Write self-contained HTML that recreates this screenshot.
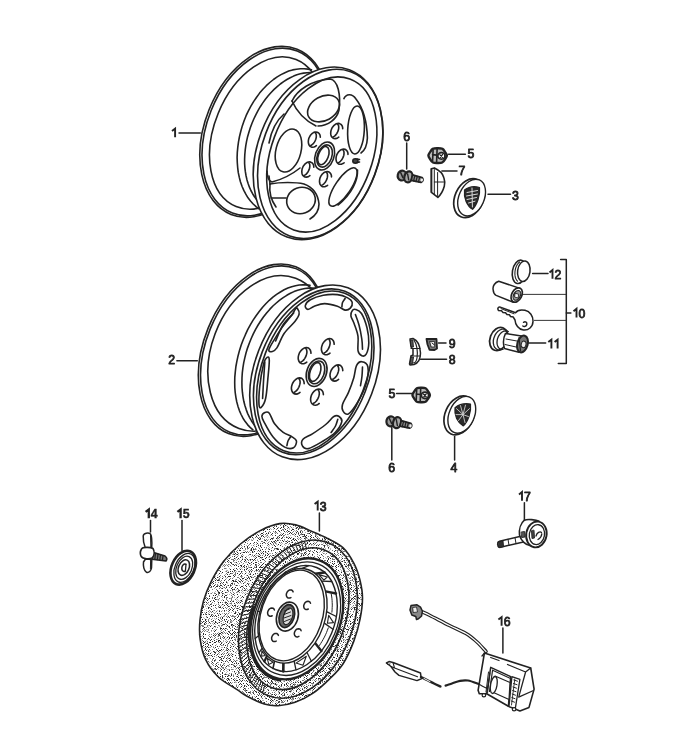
<!DOCTYPE html>
<html><head><meta charset="utf-8"><style>
html,body{margin:0;padding:0;background:#fff;}
svg{display:block;font-family:"Liberation Sans",sans-serif;}
</style></head><body>
<svg width="700" height="748" viewBox="0 0 700 748" stroke="#222" fill="none" stroke-linecap="round" stroke-linejoin="round">
<defs><filter id="soft" x="0" y="0" width="700" height="748" filterUnits="userSpaceOnUse"><feGaussianBlur stdDeviation="0.3"/></filter></defs>
<rect x="0" y="0" width="700" height="748" fill="#fff" stroke="none"/>
<g filter="url(#soft)">
<ellipse cx="264.1" cy="131.8" rx="89.0" ry="59.3" transform="rotate(-68.2 264.1 131.8)" fill="#fff" stroke-width="1.6" />
<ellipse cx="264.8" cy="132.0" rx="87.3" ry="57.8" transform="rotate(-68.2 264.8 132.0)" fill="none" stroke-width="1.6" />
<ellipse cx="266.1" cy="133.0" rx="79.4" ry="51.8" transform="rotate(-67.8 266.1 133.0)" fill="none" stroke-width="1.6" />
<path d="M259.1,208.9 L256.1,206.6 L253.2,204.0 L250.5,201.0 L248.0,197.8 L245.8,194.2 L243.8,190.4 L242.0,186.3 L240.5,182.0 L239.3,177.4 L238.3,172.7 L237.7,167.8 L237.3,162.8 L237.1,157.6 L237.3,152.4 L237.8,147.1 L238.5,141.8 L239.5,136.5 L240.8,131.2 L242.3,125.9 L244.1,120.8 L246.1,115.7 L248.4,110.8 L250.9,106.1 L253.6,101.6 L256.6,97.2 L259.6,93.1 L262.9,89.3 L266.3,85.7 L269.8,82.5 L273.5,79.5 L277.2,76.9 L281.0,74.6 L284.9,72.7 L288.7,71.1 L292.6,69.9 L296.5,69.2 L300.4,68.7 L304.2,68.7 L307.9,69.1 L311.5,69.8" fill="none" stroke-width="1.6" />
<path d="M256.6,199.4 L254.5,196.7 L252.6,193.7 L250.9,190.5 L249.4,187.2 L248.1,183.6 L247.0,179.9 L246.1,176.0 L245.4,171.9 L244.9,167.8 L244.6,163.5 L244.6,159.1 L244.8,154.7 L245.2,150.2 L245.8,145.7 L246.6,141.2 L247.6,136.7 L248.9,132.2 L250.3,127.7 L252.0,123.3 L253.8,119.0 L255.8,114.8 L258.0,110.7 L260.3,106.7 L262.8,102.9 L265.4,99.2 L268.2,95.8 L271.1,92.5 L274.1,89.4 L277.2,86.6 L280.3,84.0 L283.6,81.6 L286.9,79.5 L290.2,77.7 L293.6,76.1 L296.9,74.8 L300.3,73.8 L303.6,73.1 L307.0,72.7 L310.2,72.6 L313.4,72.8" fill="none" stroke-width="1.6" />
<ellipse cx="318.1" cy="153.4" rx="89.3" ry="60.6" transform="rotate(-69.6 318.1 153.4)" fill="#fff" stroke-width="1.6" />
<ellipse cx="320.2" cy="153.9" rx="87.6" ry="58.2" transform="rotate(-69.6 320.2 153.9)" fill="none" stroke-width="1.6" />
<ellipse cx="321.8" cy="154.5" rx="80.5" ry="50.5" transform="rotate(-69.6 321.8 154.5)" fill="none" stroke-width="1.6" />
<ellipse cx="323.5" cy="108.5" rx="17.0" ry="12.0" transform="rotate(-29.5 323.5 108.5)" fill="none" stroke-width="1.6" />
<ellipse cx="356.0" cy="130.0" rx="24.0" ry="8.3" transform="rotate(-87.0 356.0 130.0)" fill="none" stroke-width="1.6" />
<ellipse cx="288.5" cy="150.5" rx="22.0" ry="12.5" transform="rotate(-75.6 288.5 150.5)" fill="none" stroke-width="1.6" />
<ellipse cx="301.0" cy="200.5" rx="14.5" ry="13.0" transform="rotate(-20.0 301.0 200.5)" fill="none" stroke-width="1.6" />
<ellipse cx="343.0" cy="187.0" rx="22.5" ry="7.8" transform="rotate(-56.0 343.0 187.0)" fill="none" stroke-width="1.6" />
<path d="M292,101 C297,90 312,80 330,79 C338,80 341,95 339,110 C337,119 328,126 318,126" fill="none" stroke-width="1.6" />
<path d="M292,101 C296,110 304,120 316,126" fill="none" stroke-width="1.6" />
<path d="M343.9,98.6 C346,94 352,93 356,99 C363,108 367,122 367.4,138 C367,146 364,151 361,153" fill="none" stroke-width="1.6" />
<path d="M284,114 C277,120 271.5,130 269,143" fill="none" stroke-width="1.6" />
<path d="M267,171 C267.3,178 269,181.5 272,182 C280,180 290,176 300,168" fill="none" stroke-width="1.6" />
<path d="M270,184 C280,182 296,182 304,184 C312,187 318,194 319,204 C319,211 315,216 310,219" fill="none" stroke-width="1.6" />
<path d="M270,184 C269,192 271,200 276,207" fill="none" stroke-width="1.6" />
<path d="M269,176 L270,184" fill="none" stroke-width="1.6" />
<line x1="271" y1="198" x2="286" y2="198" stroke-width="1.6"/>
<path d="M357.5,170 C358,180 352,194 338,205" fill="none" stroke-width="1.6" />
<ellipse cx="324.6" cy="156.0" rx="14.5" ry="9.3" transform="rotate(-70.0 324.6 156.0)" fill="none" stroke-width="1.6" />
<ellipse cx="324.6" cy="156.0" rx="11.5" ry="7.2" transform="rotate(-70.0 324.6 156.0)" fill="none" stroke-width="1.6" />
<ellipse cx="323.4" cy="155.6" rx="9.5" ry="5.0" transform="rotate(-70.0 323.4 155.6)" fill="none" stroke-width="1.6" />
<path d="M338.8,137.1 L337.6,137.9 L336.4,138.4 L335.1,138.6 L333.9,138.5 L332.9,138.0 L332.0,137.2 L331.3,136.2 L330.9,134.9 L330.7,133.4 L330.8,131.8 L331.1,130.2 L331.7,128.7 L332.5,127.2 L333.5,125.9 L334.7,124.8 L335.9,124.0 L337.2,123.5 L338.4,123.4 L339.6,123.6 L340.6,124.1 L341.5,124.9 L342.2,126.0 L342.6,127.3 L342.7,128.7" fill="none" stroke-width="1.6" />
<path d="M337.7,124.3 L338.2,124.9 L338.6,125.8 L338.7,126.9 L338.7,128.2 L338.5,129.5 L338.1,130.9 L337.5,132.2 L336.8,133.5 L336.0,134.6 L335.1,135.6 L334.1,136.4 L333.2,136.9" fill="none" stroke-width="1.6" />
<path d="M316.4,145.7 L315.2,146.5 L314.0,147.0 L312.7,147.2 L311.5,147.1 L310.5,146.6 L309.6,145.8 L308.9,144.8 L308.5,143.5 L308.3,142.0 L308.4,140.4 L308.7,138.8 L309.3,137.3 L310.1,135.8 L311.1,134.5 L312.3,133.4 L313.5,132.6 L314.8,132.1 L316.0,132.0 L317.2,132.2 L318.2,132.7 L319.1,133.5 L319.8,134.6 L320.2,135.9 L320.3,137.3" fill="none" stroke-width="1.6" />
<path d="M315.3,132.9 L315.8,133.5 L316.2,134.4 L316.3,135.5 L316.3,136.8 L316.1,138.1 L315.7,139.5 L315.1,140.8 L314.4,142.1 L313.6,143.2 L312.7,144.2 L311.7,145.0 L310.8,145.5" fill="none" stroke-width="1.6" />
<path d="M344.1,162.8 L342.9,163.6 L341.7,164.1 L340.4,164.3 L339.2,164.2 L338.2,163.7 L337.3,162.9 L336.6,161.9 L336.2,160.6 L336.0,159.1 L336.1,157.5 L336.4,155.9 L337.0,154.4 L337.8,152.9 L338.8,151.6 L340.0,150.5 L341.2,149.7 L342.5,149.2 L343.7,149.1 L344.9,149.3 L345.9,149.8 L346.8,150.6 L347.5,151.7 L347.9,153.0 L348.0,154.4" fill="none" stroke-width="1.6" />
<path d="M343.0,150.0 L343.5,150.6 L343.9,151.5 L344.0,152.6 L344.0,153.9 L343.8,155.2 L343.4,156.6 L342.8,157.9 L342.1,159.2 L341.3,160.3 L340.4,161.3 L339.4,162.1 L338.5,162.6" fill="none" stroke-width="1.6" />
<path d="M309.9,175.6 L308.7,176.4 L307.5,176.9 L306.2,177.1 L305.0,177.0 L304.0,176.5 L303.1,175.7 L302.4,174.7 L302.0,173.4 L301.8,171.9 L301.9,170.3 L302.2,168.7 L302.8,167.2 L303.6,165.7 L304.6,164.4 L305.8,163.3 L307.0,162.5 L308.3,162.0 L309.5,161.9 L310.7,162.1 L311.7,162.6 L312.6,163.4 L313.3,164.5 L313.7,165.8 L313.8,167.2" fill="none" stroke-width="1.6" />
<path d="M308.8,162.8 L309.3,163.4 L309.7,164.3 L309.8,165.4 L309.8,166.7 L309.6,168.0 L309.2,169.4 L308.6,170.7 L307.9,172.0 L307.1,173.1 L306.2,174.1 L305.2,174.9 L304.3,175.4" fill="none" stroke-width="1.6" />
<path d="M327.6,185.3 L326.4,186.1 L325.2,186.6 L323.9,186.8 L322.7,186.7 L321.7,186.2 L320.8,185.4 L320.1,184.4 L319.7,183.1 L319.5,181.6 L319.6,180.0 L319.9,178.4 L320.5,176.9 L321.3,175.4 L322.3,174.1 L323.5,173.0 L324.7,172.2 L326.0,171.7 L327.2,171.6 L328.4,171.8 L329.4,172.3 L330.3,173.1 L331.0,174.2 L331.4,175.5 L331.5,176.9" fill="none" stroke-width="1.6" />
<path d="M326.5,172.5 L327.0,173.1 L327.4,174.0 L327.5,175.1 L327.5,176.4 L327.3,177.7 L326.9,179.1 L326.3,180.4 L325.6,181.7 L324.8,182.8 L323.9,183.8 L322.9,184.6 L322.0,185.1" fill="none" stroke-width="1.6" />
<ellipse cx="355.4" cy="161.0" rx="2.6" ry="2.2" transform="rotate(0.0 355.4 161.0)" fill="#444" stroke-width="1.6" />
<path d="M357,159 L359.5,159.5 M357,162.5 L359.5,162" fill="none" stroke-width="1.6" />
<ellipse cx="262.1" cy="350.2" rx="89.9" ry="58.3" transform="rotate(-68.0 262.1 350.2)" fill="#fff" stroke-width="1.6" />
<ellipse cx="262.8" cy="350.4" rx="88.2" ry="56.8" transform="rotate(-68.0 262.8 350.4)" fill="none" stroke-width="1.6" />
<ellipse cx="267.3" cy="353.4" rx="80.3" ry="55.8" transform="rotate(-69.3 267.3 353.4)" fill="none" stroke-width="1.6" />
<path d="M252.9,429.8 L250.1,427.4 L247.5,424.6 L245.2,421.6 L243.0,418.2 L241.1,414.5 L239.4,410.6 L238.0,406.4 L236.8,402.0 L235.9,397.3 L235.2,392.5 L234.8,387.5 L234.7,382.4 L234.8,377.2 L235.3,371.9 L235.9,366.5 L236.9,361.1 L238.1,355.7 L239.5,350.4 L241.2,345.0 L243.2,339.8 L245.4,334.7 L247.7,329.7 L250.3,324.8 L253.1,320.1 L256.1,315.7 L259.2,311.5 L262.4,307.5 L265.8,303.8 L269.3,300.3 L272.9,297.2 L276.6,294.4 L280.4,292.0 L284.1,289.8 L287.9,288.1 L291.7,286.7 L295.5,285.7 L299.2,285.0 L302.9,284.8 L306.5,284.9 L310.0,285.4" fill="none" stroke-width="1.6" />
<path d="M255.9,427.0 L253.6,424.0 L251.4,420.7 L249.5,417.3 L247.7,413.6 L246.2,409.6 L244.9,405.5 L243.8,401.3 L243.0,396.8 L242.4,392.2 L242.0,387.5 L241.9,382.7 L242.0,377.8 L242.3,372.9 L242.9,367.9 L243.7,362.9 L244.8,357.9 L246.0,353.0 L247.5,348.1 L249.3,343.2 L251.2,338.5 L253.3,333.8 L255.6,329.3 L258.1,325.0 L260.8,320.8 L263.6,316.8 L266.6,313.0 L269.7,309.4 L272.9,306.0 L276.3,303.0 L279.7,300.1 L283.2,297.6 L286.8,295.3 L290.4,293.3 L294.0,291.6 L297.7,290.3 L301.4,289.2 L305.0,288.5 L308.6,288.1 L312.2,288.0 L315.7,288.3" fill="none" stroke-width="1.6" />
<ellipse cx="315.1" cy="372.3" rx="90.7" ry="60.5" transform="rotate(-68.8 315.1 372.3)" fill="#fff" stroke-width="1.6" />
<ellipse cx="313.7" cy="371.8" rx="86.3" ry="55.2" transform="rotate(-68.8 313.7 371.8)" fill="none" stroke-width="1.6" />
<ellipse cx="314.2" cy="372.0" rx="84.4" ry="52.3" transform="rotate(-68.8 314.2 372.0)" fill="none" stroke-width="1.6" />
<path d="M305.3,305.6 C305.7,304.0 307.4,301.5 310.4,299.8 C313.4,298.1 318.8,296.2 323.3,295.3 C327.8,294.4 333.3,294.2 337.4,294.6 C341.5,295.0 345.2,296.6 347.7,297.9 C350.2,299.2 351.8,300.7 352.2,302.4 C352.6,304.1 351.5,306.8 350.3,308.1 C349.1,309.4 347.2,310.4 345.1,310.1 C343.0,309.8 340.8,307.3 337.4,306.2 C334.0,305.1 328.5,303.6 324.6,303.6 C320.8,303.6 317.1,305.2 314.3,306.2 C311.5,307.2 309.4,309.5 307.9,309.4 C306.4,309.3 304.9,307.2 305.3,305.6Z" fill="none" stroke-width="1.6" />
<path d="M355.4,309.4 C356.9,309.9 359.6,310.4 361.5,313.5 C363.4,316.6 365.8,322.9 367.0,327.8 C368.2,332.7 368.9,338.4 368.8,342.8 C368.7,347.2 367.4,352.1 366.2,354.2 C365.0,356.3 363.2,356.3 361.8,355.7 C360.4,355.1 358.6,353.8 358.0,350.6 C357.4,347.4 358.6,340.9 358.0,336.4 C357.4,331.9 355.3,327.0 354.1,323.6 C352.9,320.2 351.2,318.0 350.9,315.8 C350.6,313.6 351.4,311.8 352.2,310.7 C352.9,309.6 353.8,308.9 355.4,309.4Z" fill="none" stroke-width="1.6" />
<path d="M361.8,361.7 C363.7,361.9 367.2,363.2 367.9,367.0 C368.6,370.8 367.6,378.6 365.9,384.4 C364.2,390.2 360.7,396.9 357.8,401.8 C354.9,406.7 350.9,412.2 348.5,413.8 C346.1,415.4 344.1,412.7 343.1,411.1 C342.1,409.6 341.6,407.6 342.5,404.5 C343.4,401.4 346.6,396.9 348.5,392.4 C350.4,387.9 352.5,382.1 353.8,377.7 C355.1,373.2 355.2,368.4 356.5,365.7 C357.8,363.0 359.9,361.5 361.8,361.7Z" fill="none" stroke-width="1.6" />
<path d="M339.1,416.5 C340.4,417.4 342.5,419.1 341.8,421.8 C341.1,424.5 338.5,429.1 335.1,432.5 C331.8,435.9 326.1,439.2 321.7,441.9 C317.2,444.6 311.6,447.9 308.4,448.6 C305.2,449.3 303.3,447.5 302.4,445.9 C301.5,444.3 301.3,441.2 303.0,439.2 C304.7,437.2 308.6,436.3 312.4,433.9 C316.2,431.4 322.1,427.4 325.7,424.5 C329.3,421.6 331.6,417.8 333.8,416.5 C336.0,415.2 337.8,415.6 339.1,416.5Z" fill="none" stroke-width="1.6" />
<path d="M264.9,412.5 C266.1,412.0 267.7,411.4 269.3,413.2 C270.9,415.0 272.1,420.3 274.4,423.5 C276.7,426.7 280.2,430.2 283.2,432.4 C286.1,434.6 289.9,435.3 292.1,436.8 C294.3,438.3 296.3,439.4 296.5,441.2 C296.7,443.0 295.5,446.8 293.5,447.8 C291.5,448.8 288.1,448.9 284.7,447.1 C281.3,445.3 276.3,441.0 272.9,436.8 C269.5,432.6 265.9,425.5 264.1,422.1 C262.3,418.7 261.8,417.8 261.9,416.2 C262.0,414.6 263.7,413.0 264.9,412.5Z" fill="none" stroke-width="1.6" />
<path d="M267.1,357.4 C268.1,356.7 269.2,356.6 269.3,360.3 C269.4,364.0 268.4,373.0 267.8,379.4 C267.2,385.8 266.7,393.8 265.6,398.5 C264.5,403.2 262.3,406.4 261.2,407.4 C260.1,408.4 259.2,407.8 259.0,404.4 C258.8,401.0 259.0,393.4 259.7,386.8 C260.4,380.2 262.2,369.6 263.4,364.7 C264.6,359.8 266.1,358.1 267.1,357.4Z" fill="none" stroke-width="1.6" />
<path d="M297.3,308.2 C297.9,309.0 299.5,312.0 299.1,314.2 C298.7,316.4 297.4,318.3 294.9,321.5 C292.4,324.7 287.1,329.1 284.1,333.5 C281.1,337.9 278.9,344.9 276.9,347.9 C274.9,350.9 273.5,351.1 272.1,351.5 C270.8,351.9 268.5,351.9 268.8,350.0 C269.1,348.1 271.6,344.1 273.9,340.3 C276.1,336.5 279.3,331.3 282.3,327.1 C285.3,322.9 289.7,318.0 291.9,315.0 C294.1,312.0 294.4,310.3 295.3,309.2 C296.2,308.1 296.7,307.4 297.3,308.2Z" fill="none" stroke-width="1.6" />
<path d="M345.1,298.5 C344.7,299.2 343.0,301.1 342.5,302.5 C342.0,303.9 342.0,306.2 341.9,306.9" fill="none" stroke-width="1.6" />
<path d="M355.4,314.6 C356.0,316.3 357.9,320.9 359.0,325.0 C360.1,329.1 361.2,334.9 361.8,339.0 C362.4,343.1 362.4,347.6 362.5,349.3" fill="none" stroke-width="1.6" />
<path d="M362.5,367.0 C362.4,368.5 362.3,372.9 362.0,376.0 C361.7,379.1 360.8,384.1 360.5,385.7" fill="none" stroke-width="1.6" />
<path d="M337.8,419.2 C337.4,420.3 336.6,423.8 335.5,426.0 C334.4,428.2 331.8,431.4 331.1,432.5" fill="none" stroke-width="1.6" />
<path d="M290.6,436.8 C290.2,437.5 288.6,439.5 288.0,441.0 C287.4,442.5 287.1,444.8 286.9,445.6" fill="none" stroke-width="1.6" />
<path d="M264.8,362.0 C264.6,365.0 264.0,373.9 263.6,380.0 C263.2,386.1 262.8,395.4 262.6,398.5" fill="none" stroke-width="1.6" />
<path d="M293.7,313.0 C291.9,315.0 286.0,320.3 283.0,325.0 C280.0,329.7 276.8,338.3 275.6,341.0" fill="none" stroke-width="1.6" />
<ellipse cx="316.6" cy="372.4" rx="14.5" ry="9.8" transform="rotate(-70.0 316.6 372.4)" fill="none" stroke-width="1.6" />
<ellipse cx="316.6" cy="372.4" rx="11.8" ry="7.6" transform="rotate(-70.0 316.6 372.4)" fill="none" stroke-width="1.6" />
<ellipse cx="315.2" cy="372.0" rx="9.8" ry="5.0" transform="rotate(-70.0 315.2 372.0)" fill="none" stroke-width="1.6" />
<path d="M330.0,353.1 L328.7,354.0 L327.4,354.6 L326.1,354.8 L324.8,354.6 L323.7,354.1 L322.8,353.3 L322.1,352.2 L321.6,350.8 L321.4,349.3 L321.5,347.6 L321.9,345.9 L322.5,344.2 L323.4,342.7 L324.5,341.3 L325.7,340.2 L327.0,339.3 L328.3,338.8 L329.6,338.6 L330.9,338.8 L332.0,339.3 L332.9,340.2 L333.6,341.3 L334.0,342.7 L334.2,344.3" fill="none" stroke-width="1.6" />
<path d="M329.0,339.6 L329.6,340.3 L329.9,341.3 L330.1,342.4 L330.1,343.7 L329.8,345.1 L329.4,346.6 L328.8,348.0 L328.0,349.4 L327.2,350.6 L326.2,351.6 L325.2,352.4 L324.2,353.0" fill="none" stroke-width="1.6" />
<path d="M306.8,362.1 L305.5,363.0 L304.2,363.6 L302.9,363.8 L301.6,363.6 L300.5,363.1 L299.6,362.3 L298.9,361.2 L298.4,359.8 L298.2,358.3 L298.3,356.6 L298.7,354.9 L299.3,353.2 L300.2,351.7 L301.3,350.3 L302.5,349.2 L303.8,348.3 L305.1,347.8 L306.4,347.6 L307.7,347.8 L308.8,348.3 L309.7,349.2 L310.4,350.3 L310.8,351.7 L311.0,353.3" fill="none" stroke-width="1.6" />
<path d="M305.8,348.6 L306.4,349.3 L306.7,350.3 L306.9,351.4 L306.9,352.7 L306.6,354.1 L306.2,355.6 L305.6,357.0 L304.8,358.4 L304.0,359.6 L303.0,360.6 L302.0,361.4 L301.0,362.0" fill="none" stroke-width="1.6" />
<path d="M338.6,379.4 L337.3,380.3 L336.0,380.9 L334.7,381.1 L333.4,380.9 L332.3,380.4 L331.4,379.6 L330.7,378.5 L330.2,377.1 L330.0,375.6 L330.1,373.9 L330.5,372.2 L331.1,370.5 L332.0,369.0 L333.1,367.6 L334.3,366.5 L335.6,365.6 L336.9,365.1 L338.2,364.9 L339.5,365.1 L340.6,365.6 L341.5,366.5 L342.2,367.6 L342.6,369.0 L342.8,370.6" fill="none" stroke-width="1.6" />
<path d="M337.6,365.9 L338.2,366.6 L338.5,367.6 L338.7,368.7 L338.7,370.0 L338.4,371.4 L338.0,372.9 L337.4,374.3 L336.6,375.7 L335.8,376.9 L334.8,377.9 L333.8,378.7 L332.8,379.3" fill="none" stroke-width="1.6" />
<path d="M300.0,392.4 L298.7,393.3 L297.4,393.9 L296.1,394.1 L294.8,393.9 L293.7,393.4 L292.8,392.6 L292.1,391.5 L291.6,390.1 L291.4,388.6 L291.5,386.9 L291.9,385.2 L292.5,383.5 L293.4,382.0 L294.5,380.6 L295.7,379.5 L297.0,378.6 L298.3,378.1 L299.6,377.9 L300.9,378.1 L302.0,378.6 L302.9,379.5 L303.6,380.6 L304.0,382.0 L304.2,383.6" fill="none" stroke-width="1.6" />
<path d="M299.0,378.9 L299.6,379.6 L299.9,380.6 L300.1,381.7 L300.1,383.0 L299.8,384.4 L299.4,385.9 L298.8,387.3 L298.0,388.7 L297.2,389.9 L296.2,390.9 L295.2,391.7 L294.2,392.3" fill="none" stroke-width="1.6" />
<path d="M319.2,403.5 L317.9,404.4 L316.6,405.0 L315.3,405.2 L314.0,405.0 L312.9,404.5 L312.0,403.7 L311.3,402.6 L310.8,401.2 L310.6,399.7 L310.7,398.0 L311.1,396.3 L311.7,394.6 L312.6,393.1 L313.7,391.7 L314.9,390.6 L316.2,389.7 L317.5,389.2 L318.8,389.0 L320.1,389.2 L321.2,389.7 L322.1,390.6 L322.8,391.7 L323.2,393.1 L323.4,394.7" fill="none" stroke-width="1.6" />
<path d="M318.2,390.0 L318.8,390.7 L319.1,391.7 L319.3,392.8 L319.3,394.1 L319.0,395.5 L318.6,397.0 L318.0,398.4 L317.2,399.8 L316.4,401.0 L315.4,402.0 L314.4,402.8 L313.4,403.4" fill="none" stroke-width="1.6" />
<path d="M230 571.5h1M285 529.5h1M227 603.5h1M279 696.5h1M329 657.5h1M306 695.5h1M240 675.5h1M251 650.5h1M358 585.5h1M358 588.5h1M359 579.5h1M275 703.5h1M340 633.5h1M305 695.5h1M251 664.5h1M316 551.5h1M222 578.5h1M226 658.5h1M335 650.5h1M238 663.5h1M219 657.5h1M359 619.5h1M224 647.5h1M203 643.5h1M350 630.5h1M212 611.5h1M246 569.5h1M244 614.5h1M341 654.5h1M218 667.5h1M269 559.5h1M260 684.5h1M222 588.5h1M302 548.5h1M320 675.5h1M222 673.5h1M261 533.5h1M339 548.5h1M246 661.5h1M275 531.5h1M322 560.5h1M232 587.5h1M278 702.5h1M234 635.5h1M289 537.5h1M235 626.5h1M312 548.5h1M327 663.5h1M265 558.5h1M350 624.5h1M343 642.5h1M305 536.5h1M205 620.5h1M232 589.5h1M257 543.5h1M286 680.5h1M347 639.5h1M255 699.5h1M285 561.5h1M213 658.5h1M215 635.5h1M289 691.5h1M348 613.5h1M298 545.5h1M222 591.5h1M346 566.5h1M293 684.5h1M238 682.5h1M220 614.5h1M344 560.5h1M321 668.5h1M305 544.5h1M348 575.5h1M330 553.5h1M204 627.5h1M262 543.5h1M232 644.5h1M272 572.5h1M214 640.5h1M260 700.5h1M230 682.5h1M266 687.5h1M239 627.5h1M345 562.5h1M309 541.5h1M202 612.5h1M265 686.5h1M250 668.5h1M347 574.5h1M244 561.5h1M257 584.5h1M355 570.5h1M329 652.5h1M322 680.5h1M209 642.5h1M241 670.5h1M251 577.5h1M227 561.5h1M293 694.5h1M231 664.5h1M225 595.5h1M244 569.5h1M279 537.5h1M245 610.5h1M290 702.5h1M206 650.5h1M230 619.5h1M317 671.5h1M324 545.5h1M241 636.5h1M236 680.5h1M356 593.5h1M298 694.5h1M225 614.5h1M202 622.5h1M253 535.5h1M354 596.5h1M279 551.5h1M213 651.5h1M209 614.5h1M240 662.5h1M228 682.5h1M217 613.5h1M261 701.5h1M231 588.5h1M234 589.5h1M203 633.5h1M347 625.5h1M273 569.5h1M328 559.5h1M300 537.5h1M226 604.5h1M257 540.5h1M241 681.5h1M219 592.5h1M220 641.5h1M335 548.5h1M261 547.5h1M299 552.5h1M299 527.5h1M209 598.5h1M256 569.5h1M354 635.5h1M319 535.5h1M237 680.5h1M351 585.5h1M338 634.5h1M239 647.5h1M245 637.5h1M281 561.5h1M279 693.5h1M246 606.5h1M326 666.5h1M247 660.5h1M237 610.5h1M308 531.5h1M253 568.5h1M352 634.5h1M286 684.5h1M269 686.5h1M354 576.5h1M353 597.5h1M345 609.5h1M345 628.5h1M278 549.5h1M244 666.5h1M357 623.5h1M201 617.5h1M249 639.5h1M261 530.5h1M281 684.5h1M299 676.5h1M241 630.5h1M228 560.5h1M216 669.5h1M229 683.5h1M217 623.5h1M253 594.5h1M292 544.5h1M246 671.5h1M359 598.5h1M207 617.5h1M307 679.5h1M313 682.5h1M258 698.5h1M350 647.5h1M231 624.5h1M271 534.5h1M337 547.5h1M338 645.5h1M351 568.5h1M284 685.5h1M219 576.5h1M291 540.5h1M214 660.5h1M302 698.5h1M262 559.5h1M335 570.5h1M315 536.5h1M263 553.5h1M282 534.5h1M245 557.5h1M345 614.5h1M225 676.5h1M265 576.5h1M358 597.5h1M244 623.5h1M265 551.5h1M327 661.5h1M318 545.5h1M313 675.5h1M321 661.5h1M262 535.5h1M355 607.5h1M344 660.5h1M342 558.5h1M240 652.5h1M254 662.5h1M228 616.5h1M232 610.5h1M264 542.5h1M240 569.5h1M278 555.5h1M232 662.5h1M239 590.5h1M227 574.5h1M244 565.5h1M348 564.5h1M336 658.5h1M243 689.5h1M247 611.5h1M245 678.5h1M350 582.5h1M316 668.5h1M306 688.5h1M254 542.5h1M208 608.5h1M247 681.5h1M240 557.5h1M228 643.5h1M288 538.5h1M250 576.5h1M234 663.5h1M333 644.5h1M338 660.5h1M214 642.5h1M229 638.5h1M357 619.5h1M279 692.5h1M215 668.5h1M316 678.5h1M321 675.5h1M287 530.5h1M334 551.5h1M242 678.5h1M342 660.5h1M259 539.5h1M338 651.5h1M350 617.5h1M215 597.5h1M229 658.5h1M243 597.5h1M260 577.5h1M322 549.5h1M330 676.5h1M352 638.5h1M268 577.5h1M273 558.5h1M358 581.5h1M221 632.5h1M356 581.5h1M345 598.5h1M321 665.5h1M351 609.5h1M272 694.5h1M346 592.5h1M267 553.5h1M222 656.5h1M256 567.5h1M210 640.5h1M354 608.5h1M301 558.5h1M326 541.5h1M313 557.5h1M345 618.5h1M276 704.5h1M247 634.5h1M244 611.5h1M293 525.5h1M271 541.5h1M249 695.5h1M273 683.5h1M267 555.5h1M346 629.5h1M264 582.5h1M338 640.5h1M272 679.5h1M258 595.5h1M288 531.5h1M248 665.5h1M289 524.5h1M265 578.5h1M254 677.5h1M238 690.5h1M335 543.5h1M252 614.5h1M254 690.5h1M217 646.5h1M342 567.5h1M239 613.5h1M338 576.5h1M257 575.5h1M261 589.5h1M352 598.5h1M241 686.5h1M275 683.5h1M254 600.5h1M350 640.5h1M260 679.5h1M348 597.5h1M229 670.5h1M319 678.5h1M354 575.5h1M248 650.5h1M337 656.5h1M240 548.5h1M206 612.5h1M346 621.5h1M297 689.5h1M232 605.5h1M317 549.5h1M352 622.5h1M261 536.5h1M235 629.5h1M233 575.5h1M242 581.5h1M361 593.5h1M334 547.5h1M275 540.5h1M233 686.5h1M351 587.5h1M229 617.5h1M355 590.5h1M358 603.5h1M344 555.5h1M306 537.5h1M253 601.5h1M214 626.5h1M244 567.5h1M213 605.5h1M242 556.5h1M264 574.5h1M309 672.5h1M289 554.5h1M304 677.5h1M242 548.5h1M234 565.5h1M266 698.5h1M286 683.5h1M339 641.5h1M237 674.5h1M269 566.5h1M223 658.5h1M348 629.5h1M205 634.5h1M262 674.5h1M236 581.5h1M304 535.5h1M276 700.5h1M232 654.5h1M300 681.5h1M341 641.5h1M335 645.5h1M341 587.5h1M261 586.5h1M258 680.5h1M218 634.5h1M277 548.5h1M204 642.5h1M225 645.5h1M245 585.5h1M304 534.5h1M254 680.5h1M255 605.5h1M227 621.5h1M317 669.5h1M235 632.5h1M233 679.5h1M275 688.5h1M242 607.5h1M254 666.5h1M217 650.5h1M244 635.5h1M290 552.5h1M288 527.5h1M332 663.5h1M240 579.5h1M222 617.5h1M216 594.5h1M217 666.5h1M273 527.5h1M361 595.5h1M349 560.5h1M301 550.5h1M348 636.5h1M245 542.5h1M277 537.5h1M343 595.5h1M344 620.5h1M203 607.5h1M342 565.5h1M339 575.5h1M239 626.5h1M248 655.5h1M227 590.5h1M208 593.5h1M354 601.5h1M247 678.5h1M241 606.5h1M217 654.5h1M252 537.5h1M332 655.5h1M336 645.5h1M248 685.5h1M251 569.5h1M245 654.5h1M337 647.5h1M260 582.5h1M341 647.5h1M353 590.5h1M347 650.5h1M297 527.5h1M338 570.5h1M291 686.5h1M272 569.5h1M243 660.5h1M342 656.5h1M330 671.5h1M241 652.5h1M224 585.5h1M250 596.5h1M356 590.5h1M230 573.5h1M233 642.5h1M259 575.5h1M300 677.5h1M244 631.5h1M239 638.5h1M302 689.5h1M296 543.5h1M337 650.5h1M248 653.5h1M276 562.5h1M227 676.5h1M267 529.5h1M223 644.5h1M218 641.5h1M219 622.5h1M228 654.5h1M220 676.5h1M208 647.5h1M258 695.5h1M334 561.5h1M236 568.5h1M359 604.5h1M303 543.5h1M240 651.5h1M313 552.5h1M247 637.5h1M280 528.5h1M357 617.5h1M267 684.5h1M306 676.5h1M268 682.5h1M225 681.5h1M285 562.5h1M250 537.5h1M343 629.5h1M240 565.5h1M251 681.5h1M238 620.5h1M271 550.5h1M329 662.5h1M280 681.5h1M240 553.5h1M292 689.5h1M342 548.5h1M336 565.5h1M244 541.5h1M265 581.5h1M231 638.5h1M235 613.5h1M246 668.5h1M304 538.5h1M247 547.5h1M340 649.5h1M340 552.5h1M237 597.5h1M271 538.5h1M243 670.5h1M327 543.5h1M316 545.5h1M241 684.5h1M281 694.5h1M225 584.5h1M261 689.5h1M293 556.5h1M267 570.5h1M250 554.5h1M336 660.5h1M259 677.5h1M230 659.5h1M282 537.5h1M231 634.5h1M341 636.5h1M320 670.5h1M220 607.5h1M262 585.5h1M220 571.5h1M267 681.5h1M360 587.5h1M339 658.5h1M281 560.5h1M237 687.5h1M344 602.5h1M227 625.5h1M214 598.5h1M325 539.5h1M275 546.5h1M231 583.5h1M222 572.5h1M313 537.5h1M353 619.5h1M242 613.5h1M252 592.5h1M246 680.5h1M255 681.5h1M352 614.5h1M230 647.5h1M205 598.5h1M302 692.5h1M210 604.5h1M290 555.5h1M247 578.5h1M276 690.5h1M208 655.5h1M240 587.5h1M235 666.5h1M254 659.5h1M269 578.5h1M346 558.5h1M246 610.5h1M283 533.5h1M211 615.5h1M262 671.5h1M239 650.5h1M277 549.5h1M244 629.5h1M327 561.5h1M256 601.5h1M214 652.5h1M256 692.5h1M242 644.5h1M237 676.5h1M244 686.5h1M297 531.5h1M238 566.5h1M284 684.5h1M220 657.5h1M225 592.5h1M274 694.5h1M259 554.5h1M205 619.5h1M214 631.5h1M221 654.5h1M278 544.5h1M242 623.5h1M339 563.5h1M233 632.5h1M309 533.5h1M311 537.5h1M213 635.5h1M212 641.5h1M203 634.5h1M230 609.5h1M263 559.5h1M281 685.5h1M270 571.5h1M282 559.5h1M229 610.5h1M293 682.5h1M309 694.5h1M231 661.5h1M276 570.5h1M250 670.5h1M219 640.5h1M236 557.5h1M360 605.5h1M311 535.5h1M239 684.5h1M268 699.5h1M341 629.5h1M352 627.5h1M228 572.5h1M270 700.5h1M286 692.5h1M254 559.5h1M360 614.5h1M287 546.5h1M258 550.5h1M210 616.5h1M236 565.5h1M341 656.5h1M241 612.5h1M248 630.5h1M250 580.5h1M219 586.5h1M346 556.5h1M310 532.5h1M218 651.5h1M244 546.5h1M216 641.5h1M345 607.5h1M276 548.5h1M245 579.5h1M247 669.5h1M249 610.5h1M310 543.5h1M346 645.5h1M317 674.5h1M227 652.5h1M222 660.5h1M329 665.5h1M230 633.5h1M251 567.5h1M269 561.5h1M357 596.5h1M301 527.5h1M215 621.5h1M296 696.5h1M224 637.5h1M254 674.5h1M241 600.5h1M249 634.5h1M265 692.5h1M253 574.5h1M306 557.5h1M279 535.5h1M261 575.5h1M320 686.5h1M228 576.5h1M277 540.5h1M242 667.5h1M227 655.5h1M352 567.5h1M249 607.5h1M275 559.5h1M234 619.5h1M349 561.5h1M246 552.5h1M253 591.5h1M203 641.5h1M229 655.5h1M347 629.5h1M280 545.5h1M262 683.5h1M271 683.5h1M245 560.5h1M273 686.5h1M205 646.5h1M243 578.5h1M206 614.5h1M274 699.5h1M216 586.5h1M244 588.5h1M298 678.5h1M232 640.5h1M259 590.5h1M222 677.5h1M232 624.5h1M311 670.5h1M353 629.5h1M329 675.5h1M253 609.5h1M236 663.5h1M332 659.5h1M330 558.5h1M259 693.5h1M313 689.5h1M271 680.5h1M340 579.5h1M258 538.5h1M342 626.5h1M301 686.5h1M236 585.5h1M290 544.5h1M325 543.5h1M252 559.5h1M223 624.5h1M352 577.5h1M324 550.5h1M266 565.5h1M220 633.5h1M284 559.5h1M326 542.5h1M251 593.5h1M343 589.5h1M255 562.5h1M225 576.5h1M269 556.5h1M239 679.5h1M347 589.5h1M220 602.5h1M227 648.5h1M250 680.5h1M349 592.5h1M249 601.5h1M246 683.5h1M231 563.5h1M300 685.5h1M347 584.5h1M342 615.5h1M310 682.5h1M234 605.5h1M257 677.5h1M234 631.5h1M312 692.5h1M310 680.5h1M248 562.5h1M276 526.5h1M260 575.5h1M219 568.5h1M234 576.5h1M268 686.5h1M240 683.5h1M234 680.5h1M309 553.5h1M248 646.5h1M242 578.5h1M215 615.5h1M224 596.5h1M341 551.5h1M257 673.5h1M246 625.5h1M268 551.5h1M345 590.5h1M229 660.5h1M232 637.5h1M224 624.5h1M342 578.5h1M254 555.5h1M280 697.5h1M358 577.5h1M230 601.5h1M205 656.5h1M357 620.5h1M239 643.5h1M228 679.5h1M284 531.5h1M242 559.5h1M312 554.5h1M204 638.5h1M218 615.5h1M339 666.5h1M252 551.5h1M221 669.5h1M243 683.5h1M233 580.5h1M351 589.5h1M244 685.5h1M240 609.5h1M228 634.5h1M322 660.5h1M268 678.5h1M215 647.5h1M226 642.5h1M230 569.5h1M214 671.5h1M287 700.5h1M345 644.5h1M250 675.5h1M266 557.5h1M221 643.5h1M250 559.5h1M355 623.5h1M241 675.5h1M217 577.5h1M306 686.5h1M233 569.5h1M237 617.5h1M332 561.5h1M211 655.5h1M309 682.5h1M280 549.5h1M233 625.5h1M230 576.5h1M328 541.5h1M324 538.5h1M306 682.5h1M253 560.5h1M297 545.5h1M258 553.5h1M234 603.5h1M279 687.5h1M279 531.5h1M220 650.5h1M250 657.5h1M251 549.5h1M295 686.5h1M351 628.5h1M225 674.5h1M294 549.5h1M266 533.5h1M263 551.5h1M234 671.5h1M256 553.5h1M238 668.5h1M260 669.5h1M223 582.5h1M246 686.5h1M304 696.5h1M333 564.5h1M237 554.5h1M224 610.5h1M245 594.5h1M354 592.5h1M242 680.5h1M220 644.5h1M243 552.5h1M241 650.5h1M322 539.5h1M296 552.5h1M259 670.5h1M350 600.5h1M264 702.5h1M309 551.5h1M290 680.5h1M205 644.5h1M252 547.5h1M334 665.5h1M278 689.5h1M267 578.5h1M218 640.5h1M314 691.5h1M210 645.5h1M229 579.5h1M233 651.5h1M202 619.5h1M237 646.5h1M299 689.5h1M228 585.5h1M221 628.5h1M268 565.5h1M268 533.5h1M332 675.5h1M284 694.5h1M259 583.5h1M206 621.5h1M318 540.5h1M243 566.5h1M346 594.5h1M279 542.5h1M281 538.5h1M237 614.5h1M260 545.5h1M219 611.5h1M297 553.5h1M342 586.5h1M225 621.5h1M248 679.5h1M345 581.5h1M262 691.5h1M275 535.5h1M310 536.5h1M234 558.5h1M359 617.5h1M228 606.5h1M226 602.5h1M239 621.5h1M338 641.5h1M334 661.5h1M259 556.5h1M211 609.5h1M282 555.5h1M249 578.5h1M283 527.5h1M250 659.5h1M224 580.5h1M252 677.5h1M350 588.5h1M296 528.5h1M249 605.5h1M205 638.5h1M263 672.5h1M247 575.5h1M300 546.5h1M222 595.5h1M361 604.5h1M258 535.5h1M340 664.5h1M235 673.5h1M208 653.5h1M247 564.5h1M253 563.5h1M354 607.5h1M239 667.5h1M265 531.5h1M268 693.5h1M223 636.5h1M264 674.5h1M354 598.5h1M255 595.5h1M300 532.5h1M296 691.5h1M237 606.5h1M226 619.5h1M251 571.5h1M294 688.5h1M290 538.5h1M312 677.5h1M299 535.5h1M291 546.5h1M348 586.5h1M318 678.5h1M352 570.5h1M238 591.5h1M353 625.5h1M232 630.5h1M322 671.5h1M283 526.5h1M204 623.5h1M237 624.5h1M296 540.5h1M343 637.5h1M289 560.5h1M311 531.5h1M314 550.5h1M291 530.5h1M244 688.5h1M345 574.5h1M269 576.5h1M359 610.5h1M255 691.5h1M301 694.5h1M213 600.5h1M343 575.5h1M234 551.5h1M327 672.5h1M275 561.5h1M245 662.5h1M241 616.5h1M257 679.5h1M297 551.5h1M339 657.5h1M222 675.5h1M214 585.5h1M265 564.5h1M293 529.5h1M256 536.5h1M330 540.5h1M292 686.5h1M278 686.5h1M347 616.5h1M212 656.5h1M343 549.5h1M264 567.5h1M325 665.5h1M250 607.5h1M340 550.5h1M272 557.5h1M274 528.5h1M232 571.5h1M260 674.5h1M351 645.5h1M284 565.5h1M336 557.5h1M249 677.5h1M236 562.5h1M227 605.5h1M331 556.5h1M280 553.5h1M245 628.5h1M214 577.5h1M349 590.5h1M272 547.5h1M353 570.5h1M245 648.5h1M222 676.5h1M277 528.5h1M204 602.5h1M335 550.5h1M290 532.5h1M345 584.5h1M336 567.5h1M249 606.5h1M233 609.5h1M241 571.5h1M308 554.5h1M327 563.5h1M217 673.5h1M279 699.5h1M222 665.5h1M241 580.5h1M226 595.5h1M311 693.5h1M298 682.5h1M234 613.5h1M273 555.5h1M258 700.5h1M349 601.5h1M202 608.5h1M247 644.5h1M256 590.5h1M247 684.5h1M285 525.5h1M315 672.5h1M245 573.5h1M319 540.5h1M207 646.5h1M202 610.5h1M249 625.5h1M295 701.5h1M212 582.5h1M276 538.5h1M335 545.5h1M236 648.5h1M334 657.5h1M220 585.5h1M315 667.5h1M219 660.5h1M330 656.5h1M349 614.5h1M260 682.5h1M231 625.5h1M248 648.5h1M316 547.5h1M328 547.5h1M295 682.5h1M260 550.5h1M216 663.5h1M237 582.5h1M302 695.5h1M293 538.5h1M239 654.5h1M227 680.5h1M234 633.5h1M209 649.5h1M267 686.5h1M306 678.5h1M278 562.5h1M258 692.5h1M257 593.5h1M235 549.5h1M231 675.5h1M210 653.5h1M262 567.5h1M211 606.5h1M328 565.5h1M249 627.5h1M249 682.5h1M238 642.5h1M333 657.5h1M359 593.5h1M210 637.5h1M286 690.5h1M268 544.5h1M241 666.5h1M258 545.5h1M336 636.5h1M261 567.5h1M230 562.5h1M343 648.5h1M249 571.5h1M270 702.5h1M333 670.5h1M354 638.5h1M249 674.5h1M308 550.5h1M229 576.5h1M310 538.5h1M212 628.5h1M203 645.5h1M345 586.5h1M351 599.5h1M346 654.5h1M240 550.5h1M294 560.5h1M260 569.5h1M338 668.5h1M207 600.5h1M244 663.5h1M315 681.5h1M274 567.5h1M274 545.5h1M333 569.5h1M233 646.5h1M215 622.5h1M259 567.5h1M282 551.5h1M227 637.5h1M283 525.5h1M261 565.5h1M203 614.5h1M217 586.5h1M281 530.5h1M244 552.5h1M213 583.5h1M286 537.5h1M249 692.5h1M295 539.5h1M330 673.5h1M314 558.5h1M246 692.5h1M240 619.5h1M348 588.5h1M234 628.5h1M213 581.5h1M270 575.5h1M256 696.5h1M205 622.5h1M353 594.5h1M318 684.5h1M238 558.5h1M324 681.5h1M251 683.5h1M344 631.5h1M296 532.5h1M235 661.5h1M297 536.5h1M270 543.5h1M210 626.5h1M255 558.5h1M272 700.5h1M237 641.5h1M293 539.5h1M271 577.5h1M221 658.5h1M250 543.5h1M242 586.5h1M332 556.5h1M283 563.5h1M341 572.5h1M281 535.5h1M237 588.5h1M275 679.5h1M260 573.5h1M222 672.5h1M202 646.5h1M238 602.5h1M215 580.5h1M354 609.5h1M257 667.5h1M320 672.5h1M337 654.5h1M351 631.5h1M298 553.5h1M290 684.5h1M330 669.5h1M337 655.5h1M297 695.5h1M211 586.5h1M275 552.5h1M338 575.5h1M256 666.5h1M349 594.5h1M304 557.5h1M261 696.5h1M256 557.5h1M216 665.5h1M345 566.5h1M269 697.5h1M215 666.5h1M303 692.5h1M256 592.5h1M346 634.5h1M264 529.5h1M263 694.5h1M247 583.5h1M328 668.5h1M329 564.5h1M336 573.5h1M282 540.5h1M290 558.5h1M225 661.5h1M262 587.5h1M224 560.5h1M222 604.5h1M234 554.5h1M329 543.5h1M225 628.5h1M287 685.5h1M246 566.5h1M252 687.5h1M252 582.5h1M250 649.5h1M272 533.5h1M238 616.5h1M207 643.5h1M247 568.5h1M283 541.5h1M281 689.5h1M340 660.5h1M356 574.5h1M333 570.5h1M287 558.5h1M340 651.5h1M208 651.5h1M254 551.5h1M336 569.5h1M238 671.5h1M288 696.5h1M253 693.5h1M318 675.5h1M211 639.5h1M238 677.5h1M323 668.5h1M262 549.5h1M304 553.5h1M260 546.5h1M217 580.5h1M240 602.5h1M300 690.5h1M236 602.5h1M226 582.5h1M227 678.5h1M354 569.5h1M345 617.5h1M215 599.5h1M281 527.5h1M320 682.5h1M223 628.5h1M261 553.5h1M219 620.5h1M263 536.5h1M295 534.5h1M237 573.5h1M260 701.5h1M212 662.5h1M237 552.5h1M203 621.5h1M209 622.5h1M210 642.5h1M356 579.5h1M258 556.5h1M262 678.5h1M263 583.5h1M350 602.5h1M333 646.5h1M219 607.5h1M361 603.5h1M331 565.5h1M350 623.5h1M241 586.5h1M243 607.5h1M213 620.5h1M268 554.5h1M279 704.5h1M241 575.5h1M319 558.5h1M294 679.5h1M221 585.5h1M291 696.5h1M331 653.5h1M240 624.5h1M262 672.5h1M209 596.5h1M241 692.5h1M246 643.5h1M260 691.5h1M292 542.5h1M267 696.5h1M225 630.5h1M291 550.5h1M234 556.5h1M234 637.5h1M228 631.5h1M303 536.5h1M343 610.5h1M284 524.5h1M249 633.5h1M262 557.5h1M216 649.5h1M219 635.5h1M248 577.5h1M319 676.5h1M291 533.5h1M261 676.5h1M246 540.5h1M249 563.5h1M239 669.5h1M327 560.5h1M344 564.5h1M220 583.5h1M236 635.5h1M203 628.5h1M252 697.5h1M344 585.5h1M298 533.5h1M229 626.5h1M248 584.5h1M208 644.5h1M320 683.5h1M298 529.5h1M266 579.5h1M255 686.5h1M206 602.5h1M278 530.5h1M218 602.5h1M249 619.5h1M329 668.5h1M207 654.5h1M286 698.5h1M321 554.5h1M348 601.5h1M203 606.5h1M215 642.5h1M222 593.5h1M256 546.5h1M219 650.5h1M208 638.5h1M250 589.5h1M237 632.5h1M355 588.5h1M215 578.5h1M221 649.5h1M324 678.5h1M215 630.5h1M227 633.5h1M271 699.5h1M295 698.5h1M204 624.5h1M272 538.5h1M263 685.5h1M236 636.5h1M237 608.5h1M252 552.5h1M221 662.5h1M246 586.5h1M271 681.5h1M249 612.5h1M321 669.5h1M247 546.5h1M271 701.5h1M224 597.5h1M232 685.5h1M329 669.5h1M235 587.5h1M307 675.5h1M279 701.5h1M335 566.5h1M248 662.5h1M250 574.5h1M286 541.5h1M265 555.5h1M245 667.5h1M256 562.5h1M341 623.5h1M214 601.5h1M230 585.5h1M308 673.5h1M241 655.5h1M340 631.5h1M251 562.5h1M243 619.5h1M338 664.5h1M294 540.5h1M311 673.5h1M256 600.5h1M342 552.5h1M238 658.5h1M265 681.5h1M218 619.5h1M234 570.5h1M304 687.5h1M232 656.5h1M338 566.5h1M203 636.5h1M289 547.5h1M226 666.5h1M334 553.5h1M247 559.5h1M325 668.5h1M218 656.5h1M263 563.5h1M256 566.5h1M270 539.5h1M249 672.5h1M219 593.5h1M265 583.5h1M351 615.5h1M260 566.5h1M239 652.5h1M301 555.5h1M217 590.5h1M294 693.5h1M229 558.5h1M213 586.5h1M207 598.5h1M343 613.5h1M348 606.5h1M293 687.5h1M223 608.5h1M220 638.5h1M217 675.5h1M215 605.5h1M300 531.5h1M261 583.5h1M303 555.5h1M290 698.5h1M320 540.5h1M355 596.5h1M242 626.5h1M262 575.5h1M251 548.5h1M258 569.5h1M262 533.5h1M251 590.5h1M308 690.5h1M307 673.5h1M225 602.5h1M246 690.5h1M321 550.5h1M305 552.5h1M257 664.5h1M246 618.5h1M231 678.5h1M341 630.5h1M213 595.5h1M275 684.5h1M223 600.5h1M262 571.5h1M200 623.5h1M334 563.5h1M317 538.5h1M272 682.5h1M265 540.5h1M349 645.5h1M281 550.5h1M234 666.5h1M298 551.5h1M284 550.5h1M318 670.5h1M254 583.5h1M232 580.5h1M292 529.5h1M210 585.5h1M208 591.5h1M250 665.5h1M346 619.5h1M311 557.5h1M238 653.5h1M306 673.5h1M328 539.5h1M293 550.5h1M232 583.5h1M303 694.5h1M216 616.5h1M269 549.5h1M258 596.5h1M256 570.5h1M231 607.5h1M323 670.5h1M351 566.5h1M210 601.5h1M263 530.5h1M287 542.5h1M275 695.5h1M343 636.5h1M350 616.5h1M244 637.5h1M241 566.5h1M228 675.5h1M328 558.5h1M227 622.5h1M242 606.5h1M272 542.5h1M233 581.5h1M229 555.5h1M212 616.5h1M350 621.5h1M239 550.5h1M282 567.5h1M221 666.5h1M289 533.5h1M310 685.5h1M250 687.5h1M231 674.5h1M224 605.5h1M243 664.5h1M284 690.5h1M317 552.5h1M263 690.5h1M205 649.5h1M257 576.5h1M350 584.5h1M302 534.5h1M244 590.5h1M251 550.5h1M324 546.5h1M235 581.5h1M233 594.5h1M239 619.5h1M296 690.5h1M241 565.5h1M305 554.5h1M268 690.5h1M289 541.5h1M269 573.5h1M356 589.5h1M218 580.5h1M200 638.5h1M208 607.5h1M220 628.5h1M232 633.5h1M357 612.5h1M332 566.5h1M306 535.5h1M290 545.5h1M227 650.5h1M339 667.5h1M226 587.5h1M283 558.5h1M242 596.5h1M259 685.5h1M340 629.5h1M248 659.5h1M307 542.5h1M325 672.5h1M235 605.5h1M215 652.5h1M343 662.5h1M260 560.5h1M238 625.5h1M244 634.5h1M282 690.5h1M249 599.5h1M253 583.5h1M228 678.5h1M251 661.5h1M295 525.5h1M356 583.5h1M314 688.5h1M253 549.5h1M300 682.5h1M298 688.5h1M233 564.5h1M257 676.5h1M242 609.5h1M235 655.5h1M254 604.5h1M219 633.5h1M343 571.5h1M240 573.5h1M212 644.5h1M229 627.5h1M260 557.5h1M348 565.5h1M261 670.5h1M328 651.5h1M284 695.5h1M260 538.5h1M338 564.5h1M257 669.5h1M205 648.5h1M233 601.5h1M235 553.5h1M222 618.5h1M218 592.5h1M318 557.5h1M290 691.5h1M342 561.5h1M243 583.5h1M320 557.5h1M274 541.5h1M239 574.5h1M345 647.5h1M297 554.5h1M229 632.5h1M239 581.5h1M250 685.5h1M242 628.5h1M219 573.5h1M328 664.5h1M248 692.5h1M257 698.5h1M299 693.5h1M346 623.5h1M256 581.5h1M262 564.5h1M224 619.5h1M307 543.5h1M273 559.5h1M332 563.5h1M235 612.5h1M224 669.5h1M242 647.5h1M305 675.5h1M237 594.5h1M215 595.5h1M214 654.5h1M255 573.5h1M259 582.5h1M246 647.5h1M309 544.5h1M229 637.5h1M214 623.5h1M269 529.5h1M313 543.5h1M252 662.5h1M253 672.5h1M255 564.5h1M228 649.5h1M340 554.5h1M235 618.5h1M281 700.5h1M251 654.5h1M239 614.5h1" stroke="#2a2a2a" stroke-width="1" stroke-linecap="butt" shape-rendering="crispEdges" fill="none"/>
<path d="M343 658.5h1M233 636.5h1M253 675.5h1M350 643.5h1M290 548.5h1M243 587.5h1M243 692.5h1M230 592.5h1M331 667.5h1M338 578.5h1M333 545.5h1M312 533.5h1M345 637.5h1M231 620.5h1M324 661.5h1M259 585.5h1M241 555.5h1M351 576.5h1M211 661.5h1M209 586.5h1M225 579.5h1M355 609.5h1M301 554.5h1M277 696.5h1M281 691.5h1M283 692.5h1M264 580.5h1M243 639.5h1M226 660.5h1M256 594.5h1M214 661.5h1M323 548.5h1M291 699.5h1M356 585.5h1M333 544.5h1M312 688.5h1M341 559.5h1M278 699.5h1M226 674.5h1M350 604.5h1M347 603.5h1M250 609.5h1M264 556.5h1M227 646.5h1M276 541.5h1M254 586.5h1M310 678.5h1M347 608.5h1M303 534.5h1M276 694.5h1M258 665.5h1M207 641.5h1M329 557.5h1M241 639.5h1M232 650.5h1M308 536.5h1M248 590.5h1M323 556.5h1M350 627.5h1M272 555.5h1M273 560.5h1M349 565.5h1M324 547.5h1M350 580.5h1M237 585.5h1M244 668.5h1M238 644.5h1M358 609.5h1M343 640.5h1M323 541.5h1M215 587.5h1M303 683.5h1M305 550.5h1M256 681.5h1M245 691.5h1M269 704.5h1M241 590.5h1M340 639.5h1M215 637.5h1M230 635.5h1M227 629.5h1M274 572.5h1M343 577.5h1M255 580.5h1M222 602.5h1M334 646.5h1M248 602.5h1M230 586.5h1M221 621.5h1M351 595.5h1M240 614.5h1M204 631.5h1M271 556.5h1M225 607.5h1M210 623.5h1M236 554.5h1M211 663.5h1M272 553.5h1M265 675.5h1M342 624.5h1M311 675.5h1M233 606.5h1M228 609.5h1M270 555.5h1M247 694.5h1M230 657.5h1M341 634.5h1M259 589.5h1M273 531.5h1M220 590.5h1M257 694.5h1M315 666.5h1M298 534.5h1M216 655.5h1M234 552.5h1M266 547.5h1M280 534.5h1M250 626.5h1M224 665.5h1M354 579.5h1M222 576.5h1M292 693.5h1M220 668.5h1M351 601.5h1M208 661.5h1M288 686.5h1M353 585.5h1M238 608.5h1M251 688.5h1M223 661.5h1M220 670.5h1M226 650.5h1M206 658.5h1M239 592.5h1M244 582.5h1M209 618.5h1M355 595.5h1M279 685.5h1M225 639.5h1M277 571.5h1M241 662.5h1M333 650.5h1M267 537.5h1M339 557.5h1M264 560.5h1M230 630.5h1M240 632.5h1M239 640.5h1M307 530.5h1M322 561.5h1M258 565.5h1M265 534.5h1M221 596.5h1M248 570.5h1M273 677.5h1M260 555.5h1M348 617.5h1M240 637.5h1M296 525.5h1M215 626.5h1M216 639.5h1M280 557.5h1M293 692.5h1M205 654.5h1M230 615.5h1M312 558.5h1M277 554.5h1M296 545.5h1M220 629.5h1M236 686.5h1M232 578.5h1M229 673.5h1M237 556.5h1M202 638.5h1M303 686.5h1M226 616.5h1M233 676.5h1M299 695.5h1M353 581.5h1M312 672.5h1M223 668.5h1M255 578.5h1M234 595.5h1M224 629.5h1M272 692.5h1M307 555.5h1M236 579.5h1M211 630.5h1M236 608.5h1M216 608.5h1M328 552.5h1M307 689.5h1M284 528.5h1M284 549.5h1M231 553.5h1M250 655.5h1M352 561.5h1M239 670.5h1M253 584.5h1M336 662.5h1M217 668.5h1M274 549.5h1M241 597.5h1M349 578.5h1M252 666.5h1M241 658.5h1M343 618.5h1M220 617.5h1M250 682.5h1M315 685.5h1M201 632.5h1M202 631.5h1M307 687.5h1M300 684.5h1M252 589.5h1M302 553.5h1M229 598.5h1M239 665.5h1M286 543.5h1M333 666.5h1M342 638.5h1M225 667.5h1M249 651.5h1M261 541.5h1M318 667.5h1M237 577.5h1M267 563.5h1M319 555.5h1M255 549.5h1M248 688.5h1M305 687.5h1M211 634.5h1M358 613.5h1M339 632.5h1M236 551.5h1M223 667.5h1M341 549.5h1M239 672.5h1M346 639.5h1M297 541.5h1M205 613.5h1M348 583.5h1M224 632.5h1M290 546.5h1M250 676.5h1M224 615.5h1M300 528.5h1M326 680.5h1M222 569.5h1M234 643.5h1M274 678.5h1M245 549.5h1M254 571.5h1M221 660.5h1M348 604.5h1M233 665.5h1M325 560.5h1M332 646.5h1M348 623.5h1M230 603.5h1M224 575.5h1M284 564.5h1M299 549.5h1M328 671.5h1M228 591.5h1M245 590.5h1M285 543.5h1M232 615.5h1M324 664.5h1M292 697.5h1M309 674.5h1M331 647.5h1M248 609.5h1M323 558.5h1M280 540.5h1M252 579.5h1M206 643.5h1M293 678.5h1M221 592.5h1M302 680.5h1M207 639.5h1M246 645.5h1M292 534.5h1M280 699.5h1M262 579.5h1M230 645.5h1M304 688.5h1M307 533.5h1M287 682.5h1M237 629.5h1M344 597.5h1M267 689.5h1M259 593.5h1M236 676.5h1M353 641.5h1M301 692.5h1M257 537.5h1M218 648.5h1M215 669.5h1M242 642.5h1M234 682.5h1M235 572.5h1M231 655.5h1M277 533.5h1M249 574.5h1M220 618.5h1M332 555.5h1M257 570.5h1M277 569.5h1M237 559.5h1M326 562.5h1M240 582.5h1M267 694.5h1M217 584.5h1M318 672.5h1M287 552.5h1M303 557.5h1M289 699.5h1M203 651.5h1M249 567.5h1M225 655.5h1M298 532.5h1M232 559.5h1M331 544.5h1M304 530.5h1M357 590.5h1M257 577.5h1M238 623.5h1M290 559.5h1M253 660.5h1M235 606.5h1M267 580.5h1M209 639.5h1M346 612.5h1M250 618.5h1M245 618.5h1M250 567.5h1M228 611.5h1M268 574.5h1M320 679.5h1M215 593.5h1M351 561.5h1M209 634.5h1M301 551.5h1M320 666.5h1M231 585.5h1M218 625.5h1M225 562.5h1M242 554.5h1M228 662.5h1M271 544.5h1M219 646.5h1M215 584.5h1M240 595.5h1M235 611.5h1M328 556.5h1M276 687.5h1M304 685.5h1M237 667.5h1M282 695.5h1M235 652.5h1M256 564.5h1M345 577.5h1M215 645.5h1M360 613.5h1M317 554.5h1M246 650.5h1M245 548.5h1M214 576.5h1M234 617.5h1M303 550.5h1M328 676.5h1M262 581.5h1M245 658.5h1M242 657.5h1M238 648.5h1M345 601.5h1M255 565.5h1M252 570.5h1M264 696.5h1M211 614.5h1M262 583.5h1M255 684.5h1M267 543.5h1M258 563.5h1M243 675.5h1M215 672.5h1M264 703.5h1M224 620.5h1M249 544.5h1M282 529.5h1M340 643.5h1M227 589.5h1M347 601.5h1M306 684.5h1M205 641.5h1M241 664.5h1M239 571.5h1M208 602.5h1M322 538.5h1M209 590.5h1M286 554.5h1M352 579.5h1M271 677.5h1M308 556.5h1M216 573.5h1M237 591.5h1M229 641.5h1M251 597.5h1M253 679.5h1M255 596.5h1M204 604.5h1M235 644.5h1M231 683.5h1M344 600.5h1M225 633.5h1M224 611.5h1M274 548.5h1M250 570.5h1M220 606.5h1M232 664.5h1M246 658.5h1M227 597.5h1M218 579.5h1M208 621.5h1M247 591.5h1M262 576.5h1M223 654.5h1M231 616.5h1M226 679.5h1M342 636.5h1M248 641.5h1M321 663.5h1M232 618.5h1M215 659.5h1M329 651.5h1M232 597.5h1M243 563.5h1M237 622.5h1M321 547.5h1M352 574.5h1M288 541.5h1M351 623.5h1M234 583.5h1M283 702.5h1M223 631.5h1M273 564.5h1M338 665.5h1M236 619.5h1M266 539.5h1M231 667.5h1M218 664.5h1M268 572.5h1M238 612.5h1M314 544.5h1M214 656.5h1M232 626.5h1M260 683.5h1M264 586.5h1M307 531.5h1M335 654.5h1M310 547.5h1M347 631.5h1M243 625.5h1M284 681.5h1M263 542.5h1M265 688.5h1M304 546.5h1M300 697.5h1M287 694.5h1M228 639.5h1M224 653.5h1M312 685.5h1M226 581.5h1M241 572.5h1M268 532.5h1M206 627.5h1M316 675.5h1M236 665.5h1M247 656.5h1M242 676.5h1M281 702.5h1M228 566.5h1M329 678.5h1M231 600.5h1M221 611.5h1M315 679.5h1M211 603.5h1M282 565.5h1M346 576.5h1M236 592.5h1M305 537.5h1M331 649.5h1M336 653.5h1M244 656.5h1M234 574.5h1M227 657.5h1M227 641.5h1M246 627.5h1M212 649.5h1M343 653.5h1M306 551.5h1M254 602.5h1M238 615.5h1M275 569.5h1M270 574.5h1M253 556.5h1M348 605.5h1M262 698.5h1M318 668.5h1M317 541.5h1M228 580.5h1M226 610.5h1M325 679.5h1M313 670.5h1M210 608.5h1M350 571.5h1M344 576.5h1M280 563.5h1M284 547.5h1M270 688.5h1M314 677.5h1M240 649.5h1M254 589.5h1M345 640.5h1M266 575.5h1M342 622.5h1M207 659.5h1M214 634.5h1M350 591.5h1M346 583.5h1M325 674.5h1M254 567.5h1M250 642.5h1M205 652.5h1M253 666.5h1M348 627.5h1M269 531.5h1M339 646.5h1M341 645.5h1M222 637.5h1M241 643.5h1M261 562.5h1M226 653.5h1M278 527.5h1M321 544.5h1M273 690.5h1M215 664.5h1M294 543.5h1M244 680.5h1M273 550.5h1M285 703.5h1M312 551.5h1M238 590.5h1M248 667.5h1M293 702.5h1M247 675.5h1M347 575.5h1M243 677.5h1M233 589.5h1M345 593.5h1M250 560.5h1M343 633.5h1M226 597.5h1M223 616.5h1M232 596.5h1M352 639.5h1M310 688.5h1M233 611.5h1M231 622.5h1M244 647.5h1M323 679.5h1M240 680.5h1M241 562.5h1M305 539.5h1M247 600.5h1M344 612.5h1M231 573.5h1M247 593.5h1M327 657.5h1M298 539.5h1M234 593.5h1M235 570.5h1M262 569.5h1M315 535.5h1M349 584.5h1M267 680.5h1M230 584.5h1M230 628.5h1M253 658.5h1M259 548.5h1M239 632.5h1M260 562.5h1M241 577.5h1M247 633.5h1M227 600.5h1M359 615.5h1M231 595.5h1M237 670.5h1M242 603.5h1M211 636.5h1M303 680.5h1M218 676.5h1M208 620.5h1M262 574.5h1M354 571.5h1M287 697.5h1M286 547.5h1M219 580.5h1M283 529.5h1M305 558.5h1M279 556.5h1M236 657.5h1M239 661.5h1M221 645.5h1M246 599.5h1M230 590.5h1M313 547.5h1M239 607.5h1M238 577.5h1M347 565.5h1M232 584.5h1M332 543.5h1M271 559.5h1M320 678.5h1M214 638.5h1M313 671.5h1M250 587.5h1M244 625.5h1M234 678.5h1M208 650.5h1M254 671.5h1M224 657.5h1M287 701.5h1M347 568.5h1M355 599.5h1M293 554.5h1M295 526.5h1M226 647.5h1M224 674.5h1M256 700.5h1M277 700.5h1M263 702.5h1M251 666.5h1M249 675.5h1M349 603.5h1M330 663.5h1M206 616.5h1M286 531.5h1M252 674.5h1M340 632.5h1M347 643.5h1M263 534.5h1M289 551.5h1M223 593.5h1M355 582.5h1M228 601.5h1M343 634.5h1M343 639.5h1M244 559.5h1M227 665.5h1M252 602.5h1M348 569.5h1M225 603.5h1M286 559.5h1M217 585.5h1M209 655.5h1M241 545.5h1M248 552.5h1M342 652.5h1M231 643.5h1M354 603.5h1M246 642.5h1M242 620.5h1M263 581.5h1M240 576.5h1M265 561.5h1M280 525.5h1M231 598.5h1M218 653.5h1M276 553.5h1M292 559.5h1M259 694.5h1M218 582.5h1M233 616.5h1M275 548.5h1M349 639.5h1M283 536.5h1M200 620.5h1M226 649.5h1M220 664.5h1M326 661.5h1M238 583.5h1M322 682.5h1M243 649.5h1M260 686.5h1M278 701.5h1M226 624.5h1M323 660.5h1M235 599.5h1M237 626.5h1M254 593.5h1M237 627.5h1M236 668.5h1M294 533.5h1M241 641.5h1M245 559.5h1M345 622.5h1M238 571.5h1M265 569.5h1M316 542.5h1M328 658.5h1M346 600.5h1M279 569.5h1M308 695.5h1M302 528.5h1M245 632.5h1M292 532.5h1M219 579.5h1M219 610.5h1M256 544.5h1M252 555.5h1M218 638.5h1M232 552.5h1M299 698.5h1M248 548.5h1M285 553.5h1M218 636.5h1M263 532.5h1M252 696.5h1M312 555.5h1M220 575.5h1M336 571.5h1M247 665.5h1M295 542.5h1M269 683.5h1M269 527.5h1M214 668.5h1M295 536.5h1M230 640.5h1M322 669.5h1M258 684.5h1M258 579.5h1M291 537.5h1M273 538.5h1M319 559.5h1M234 608.5h1M230 557.5h1M329 544.5h1M326 670.5h1M224 663.5h1M248 597.5h1M324 671.5h1M315 539.5h1M248 611.5h1M276 685.5h1M357 582.5h1M238 580.5h1M213 647.5h1M249 554.5h1M250 565.5h1M349 570.5h1M207 658.5h1M238 553.5h1M325 656.5h1M305 683.5h1M221 634.5h1M268 692.5h1M222 625.5h1M230 621.5h1M297 700.5h1M254 581.5h1M246 603.5h1M271 687.5h1M270 682.5h1M229 669.5h1M324 540.5h1M268 548.5h1M290 526.5h1M226 608.5h1M250 592.5h1M253 657.5h1M270 568.5h1M248 603.5h1M326 654.5h1M243 627.5h1M255 534.5h1M200 636.5h1M338 549.5h1M207 603.5h1M224 564.5h1M315 687.5h1M280 555.5h1M229 608.5h1M244 605.5h1M261 685.5h1M289 681.5h1M315 533.5h1M298 528.5h1M247 617.5h1M298 526.5h1M270 684.5h1M294 685.5h1M244 690.5h1M332 559.5h1M261 702.5h1M343 611.5h1M315 675.5h1M346 564.5h1M309 679.5h1M345 578.5h1M216 618.5h1M349 581.5h1M327 653.5h1M260 567.5h1M241 628.5h1M243 673.5h1M225 623.5h1M220 627.5h1M279 702.5h1M313 683.5h1M359 583.5h1M232 669.5h1M262 695.5h1M246 674.5h1M302 532.5h1M215 607.5h1M341 620.5h1M217 662.5h1M273 543.5h1M260 676.5h1M208 599.5h1M317 536.5h1M255 556.5h1M246 558.5h1M335 638.5h1M242 610.5h1M253 538.5h1M293 531.5h1M292 694.5h1M240 613.5h1M337 651.5h1M204 629.5h1M234 665.5h1M335 556.5h1M246 657.5h1M301 553.5h1M224 587.5h1M253 585.5h1M206 599.5h1M236 637.5h1M218 593.5h1M315 534.5h1M258 561.5h1M220 659.5h1M260 591.5h1M264 677.5h1M343 605.5h1M213 669.5h1M298 680.5h1M252 692.5h1M273 544.5h1M282 546.5h1M352 608.5h1M326 678.5h1M204 650.5h1M263 677.5h1M226 586.5h1M224 566.5h1M298 700.5h1M223 664.5h1M205 630.5h1M275 543.5h1M338 553.5h1M263 687.5h1M216 622.5h1M335 668.5h1M209 595.5h1M342 630.5h1M359 606.5h1M346 560.5h1M347 626.5h1M260 580.5h1M356 611.5h1M326 664.5h1M264 680.5h1M247 639.5h1M340 583.5h1M272 681.5h1M340 567.5h1M329 663.5h1M221 619.5h1M345 649.5h1M233 592.5h1M337 554.5h1M322 677.5h1M215 653.5h1M206 653.5h1M338 558.5h1M275 556.5h1M296 527.5h1M202 626.5h1M249 589.5h1M317 670.5h1M296 530.5h1M340 574.5h1M348 621.5h1M200 634.5h1M226 599.5h1M242 637.5h1M330 562.5h1M235 580.5h1M270 693.5h1M222 586.5h1M356 614.5h1M349 573.5h1M282 557.5h1M206 604.5h1M293 699.5h1M201 614.5h1M312 690.5h1M247 614.5h1M348 649.5h1M259 564.5h1M259 690.5h1M245 652.5h1M302 531.5h1M253 691.5h1M229 680.5h1M251 605.5h1M352 625.5h1M218 635.5h1M320 551.5h1M304 536.5h1M248 619.5h1M232 564.5h1M259 537.5h1M202 629.5h1M238 589.5h1M253 598.5h1M319 538.5h1M333 542.5h1M354 573.5h1M284 693.5h1M222 667.5h1M259 576.5h1M228 613.5h1M295 687.5h1M253 577.5h1M308 547.5h1M207 626.5h1M341 561.5h1M354 586.5h1M229 574.5h1M352 616.5h1M291 683.5h1M261 677.5h1M277 566.5h1M311 683.5h1M241 660.5h1M341 658.5h1M347 614.5h1M339 546.5h1M331 661.5h1M355 632.5h1M248 613.5h1M353 605.5h1M223 670.5h1M222 653.5h1M268 703.5h1M287 528.5h1M222 624.5h1M288 689.5h1M280 565.5h1M345 642.5h1M242 573.5h1M341 627.5h1M333 556.5h1M240 600.5h1M258 669.5h1M209 636.5h1M253 670.5h1M270 698.5h1M342 582.5h1M292 539.5h1M322 555.5h1M330 555.5h1M261 697.5h1M244 577.5h1M333 566.5h1M350 611.5h1M303 674.5h1M287 540.5h1M242 658.5h1M242 665.5h1M246 596.5h1M327 545.5h1M249 629.5h1M340 624.5h1M324 673.5h1M257 586.5h1M257 534.5h1M272 575.5h1M240 605.5h1M219 652.5h1M357 594.5h1M208 629.5h1M355 574.5h1M221 580.5h1M216 611.5h1M287 537.5h1M231 637.5h1M274 542.5h1M270 685.5h1M232 616.5h1M343 635.5h1M267 540.5h1M209 632.5h1M357 608.5h1M356 602.5h1M220 587.5h1M333 543.5h1M226 628.5h1M251 658.5h1M286 564.5h1M337 661.5h1M343 588.5h1M259 571.5h1M249 547.5h1M245 589.5h1M201 623.5h1M229 631.5h1M297 684.5h1M258 581.5h1M246 601.5h1M218 591.5h1M213 615.5h1M262 679.5h1M298 558.5h1M224 568.5h1M222 607.5h1M348 630.5h1M348 574.5h1M323 551.5h1M231 669.5h1M343 621.5h1M218 606.5h1M235 640.5h1M248 576.5h1M225 568.5h1M344 562.5h1M349 620.5h1M332 568.5h1M355 615.5h1M245 694.5h1M270 532.5h1M337 550.5h1M252 607.5h1M249 623.5h1M353 607.5h1M275 554.5h1M223 638.5h1M250 669.5h1M242 691.5h1M249 539.5h1M328 679.5h1M324 551.5h1M353 621.5h1M268 579.5h1M302 536.5h1M307 557.5h1M254 584.5h1M278 536.5h1M209 610.5h1M322 681.5h1M291 695.5h1M357 587.5h1M302 547.5h1M348 567.5h1M211 625.5h1M338 662.5h1M201 625.5h1M208 611.5h1M234 584.5h1M280 679.5h1M326 538.5h1M251 584.5h1M212 598.5h1M343 603.5h1M348 598.5h1M256 664.5h1M288 703.5h1M266 677.5h1M272 563.5h1M237 547.5h1M248 610.5h1M276 532.5h1M234 560.5h1M248 560.5h1M215 633.5h1M234 660.5h1M250 620.5h1M269 567.5h1M301 540.5h1M211 621.5h1M287 550.5h1M295 684.5h1M299 528.5h1M351 641.5h1M245 571.5h1M273 541.5h1M323 545.5h1M256 691.5h1M227 559.5h1M352 563.5h1M344 608.5h1M257 591.5h1M217 627.5h1M351 626.5h1M319 671.5h1M314 556.5h1M353 599.5h1M284 535.5h1M335 667.5h1M256 565.5h1M248 581.5h1M264 692.5h1M349 574.5h1M226 613.5h1M221 656.5h1M212 621.5h1M347 652.5h1M291 690.5h1M335 669.5h1M275 564.5h1M200 631.5h1M276 684.5h1M230 660.5h1M247 624.5h1M359 584.5h1M322 674.5h1M235 647.5h1M237 649.5h1M244 693.5h1M209 605.5h1M233 561.5h1M237 569.5h1M270 676.5h1M323 662.5h1M249 615.5h1M229 675.5h1M284 548.5h1M352 642.5h1M231 673.5h1M234 639.5h1M353 611.5h1M213 665.5h1M253 606.5h1M308 685.5h1M215 582.5h1M335 642.5h1M202 640.5h1M216 579.5h1M300 556.5h1M341 583.5h1M272 539.5h1M274 568.5h1M260 543.5h1M205 624.5h1M277 560.5h1M284 539.5h1M227 617.5h1M245 551.5h1M281 679.5h1M283 535.5h1M245 689.5h1M312 683.5h1M326 553.5h1M235 575.5h1M238 596.5h1M320 665.5h1M260 534.5h1M301 528.5h1M276 529.5h1M271 561.5h1M265 552.5h1M324 560.5h1M343 660.5h1M324 658.5h1M201 621.5h1M349 585.5h1M289 557.5h1M264 547.5h1M298 697.5h1M250 693.5h1M294 555.5h1M265 698.5h1M303 554.5h1M245 634.5h1M341 548.5h1M226 573.5h1M212 614.5h1M264 537.5h1M255 661.5h1M273 537.5h1M219 570.5h1M266 577.5h1M350 578.5h1M291 542.5h1M255 567.5h1M257 597.5h1M284 701.5h1M347 620.5h1M263 678.5h1M342 580.5h1M246 676.5h1M291 527.5h1M275 566.5h1M252 540.5h1M344 551.5h1M265 584.5h1M249 666.5h1M236 629.5h1M275 533.5h1M256 542.5h1M250 677.5h1M317 556.5h1M265 677.5h1M318 539.5h1M232 648.5h1M281 552.5h1M285 541.5h1M297 557.5h1M230 622.5h1M274 692.5h1M350 632.5h1M337 544.5h1M213 633.5h1M293 560.5h1M299 545.5h1M317 540.5h1M212 664.5h1M207 631.5h1M344 558.5h1M323 665.5h1M332 550.5h1M338 555.5h1M242 629.5h1M330 667.5h1M203 626.5h1M222 633.5h1M256 585.5h1M255 678.5h1M340 581.5h1M211 646.5h1M343 574.5h1M247 543.5h1M361 599.5h1M233 560.5h1M220 665.5h1M346 608.5h1M312 675.5h1M244 642.5h1M341 640.5h1M347 641.5h1M288 683.5h1M308 539.5h1M210 611.5h1M225 565.5h1M254 694.5h1M221 582.5h1M263 586.5h1M359 603.5h1M256 665.5h1M248 645.5h1M239 578.5h1M264 571.5h1M278 691.5h1M235 634.5h1M211 583.5h1M250 692.5h1M279 563.5h1M222 620.5h1M281 682.5h1M310 550.5h1M235 616.5h1M351 573.5h1M250 573.5h1M221 625.5h1M286 686.5h1M259 666.5h1M288 698.5h1M337 572.5h1M334 559.5h1M244 544.5h1M346 611.5h1M262 552.5h1M318 679.5h1M242 669.5h1M214 593.5h1M248 696.5h1M241 672.5h1M341 662.5h1M226 592.5h1M254 606.5h1M253 692.5h1M328 562.5h1M256 683.5h1M306 549.5h1M344 573.5h1M224 651.5h1M224 656.5h1M230 565.5h1M304 542.5h1M236 685.5h1M334 650.5h1M331 542.5h1M222 583.5h1M336 555.5h1M240 622.5h1M347 581.5h1M265 543.5h1M228 620.5h1M251 609.5h1M251 647.5h1M347 556.5h1M215 660.5h1M255 687.5h1M210 587.5h1M332 558.5h1M292 554.5h1M314 673.5h1M275 681.5h1M336 664.5h1M223 649.5h1M253 655.5h1M239 657.5h1M218 617.5h1M206 647.5h1M277 565.5h1M341 566.5h1M243 666.5h1M357 581.5h1M236 660.5h1M357 592.5h1M256 577.5h1M202 625.5h1M239 609.5h1M248 545.5h1M328 548.5h1M250 663.5h1M245 629.5h1M262 541.5h1M319 664.5h1M228 665.5h1M223 562.5h1M319 682.5h1M323 553.5h1M331 660.5h1M345 595.5h1M211 619.5h1M246 588.5h1M250 691.5h1M322 544.5h1M267 676.5h1M281 558.5h1M244 570.5h1M208 630.5h1M289 552.5h1M220 636.5h1M270 564.5h1M351 607.5h1M275 542.5h1M220 581.5h1M285 551.5h1M287 534.5h1M349 568.5h1M265 554.5h1M337 638.5h1M320 541.5h1M221 623.5h1M342 646.5h1M332 553.5h1M304 552.5h1M300 534.5h1M228 658.5h1M260 695.5h1M295 557.5h1M285 534.5h1M218 599.5h1M219 578.5h1M233 659.5h1M217 672.5h1M348 610.5h1M294 545.5h1M222 629.5h1M342 556.5h1M235 639.5h1M212 589.5h1M232 556.5h1M262 555.5h1M255 697.5h1M231 559.5h1M276 569.5h1M296 686.5h1M245 690.5h1M216 589.5h1M283 530.5h1M296 694.5h1M227 572.5h1M238 561.5h1M300 539.5h1M246 616.5h1M260 539.5h1M339 549.5h1M229 587.5h1M232 608.5h1M229 664.5h1M232 627.5h1M219 598.5h1M355 593.5h1M251 610.5h1M302 688.5h1M337 562.5h1M267 568.5h1M282 701.5h1M227 577.5h1M212 602.5h1M293 680.5h1M268 581.5h1M239 563.5h1M346 646.5h1M263 566.5h1M270 562.5h1M338 649.5h1M297 538.5h1M231 646.5h1M243 633.5h1M316 537.5h1M298 554.5h1M227 565.5h1M264 540.5h1M355 605.5h1M227 661.5h1M211 593.5h1M281 542.5h1M318 687.5h1M236 662.5h1M241 556.5h1M335 571.5h1M352 580.5h1M233 661.5h1M356 605.5h1M226 626.5h1M254 576.5h1M301 533.5h1M284 691.5h1M237 550.5h1M301 530.5h1M213 663.5h1M263 675.5h1M350 583.5h1M253 688.5h1M228 562.5h1M214 651.5h1M240 561.5h1M220 671.5h1M226 598.5h1M305 529.5h1M241 621.5h1M224 678.5h1M276 565.5h1M242 618.5h1M254 549.5h1M221 630.5h1M348 607.5h1M239 645.5h1M340 653.5h1M271 694.5h1M234 571.5h1M228 564.5h1M278 524.5h1M226 571.5h1M337 551.5h1M300 544.5h1M248 632.5h1M211 587.5h1M256 672.5h1M283 695.5h1M292 685.5h1M353 575.5h1M248 636.5h1M232 629.5h1M288 680.5h1M209 607.5h1M232 590.5h1M227 645.5h1M231 593.5h1M229 642.5h1M208 645.5h1M264 539.5h1M219 588.5h1M306 544.5h1M219 677.5h1M255 588.5h1M271 688.5h1M212 597.5h1M250 550.5h1M298 692.5h1M315 543.5h1M240 666.5h1M253 545.5h1M340 628.5h1M342 644.5h1M231 653.5h1M220 674.5h1M217 633.5h1M353 638.5h1M353 578.5h1M342 650.5h1M282 683.5h1M223 584.5h1M260 588.5h1M345 658.5h1M241 576.5h1M267 535.5h1M230 676.5h1M343 593.5h1M220 567.5h1M267 545.5h1M216 599.5h1M286 557.5h1M241 560.5h1M232 601.5h1M258 578.5h1M261 694.5h1M251 686.5h1M238 672.5h1M274 526.5h1M250 641.5h1M265 549.5h1M301 534.5h1M273 696.5h1M221 588.5h1M340 562.5h1M315 674.5h1M247 551.5h1M261 557.5h1M308 694.5h1M284 698.5h1M245 621.5h1M348 556.5h1M256 674.5h1M231 562.5h1M324 562.5h1M316 684.5h1M266 674.5h1M346 652.5h1M206 623.5h1M247 548.5h1M203 637.5h1M229 679.5h1M255 590.5h1M205 614.5h1M231 599.5h1M278 538.5h1M297 559.5h1M211 612.5h1M295 696.5h1M289 531.5h1M335 554.5h1M234 616.5h1M203 630.5h1M342 659.5h1M214 613.5h1M240 687.5h1M218 604.5h1M232 573.5h1M268 542.5h1M259 570.5h1M240 581.5h1M237 603.5h1M354 620.5h1M277 703.5h1M217 596.5h1M219 613.5h1M347 632.5h1M258 671.5h1M325 675.5h1M229 623.5h1M251 616.5h1M231 603.5h1M214 636.5h1M236 621.5h1M240 645.5h1M268 569.5h1M327 674.5h1M319 544.5h1M341 650.5h1M228 626.5h1M304 679.5h1M208 589.5h1M249 660.5h1M230 651.5h1M352 591.5h1M341 575.5h1M216 634.5h1M229 606.5h1M230 649.5h1M354 589.5h1M306 547.5h1M204 598.5h1M235 574.5h1M248 540.5h1M308 533.5h1M347 647.5h1M326 544.5h1M360 597.5h1M291 681.5h1M257 573.5h1M278 540.5h1M219 634.5h1M311 544.5h1M255 537.5h1M222 632.5h1M233 620.5h1M242 601.5h1M259 551.5h1M248 599.5h1M351 598.5h1M356 578.5h1M259 675.5h1M293 698.5h1M339 631.5h1M314 680.5h1M244 632.5h1M314 540.5h1M206 593.5h1M340 637.5h1M343 631.5h1M345 558.5h1M297 687.5h1M248 628.5h1M246 617.5h1M227 644.5h1M208 619.5h1M216 629.5h1M244 653.5h1M301 693.5h1M253 548.5h1M245 623.5h1M281 686.5h1M308 548.5h1M289 543.5h1M255 560.5h1M344 650.5h1M234 581.5h1M263 577.5h1M238 548.5h1M251 564.5h1M290 686.5h1M221 642.5h1M320 664.5h1M245 688.5h1M218 570.5h1M343 551.5h1M233 559.5h1M245 608.5h1M343 598.5h1M259 699.5h1M220 637.5h1M221 659.5h1M219 642.5h1M238 673.5h1M266 675.5h1M233 554.5h1M225 588.5h1M252 665.5h1M251 596.5h1M294 684.5h1M235 564.5h1M324 537.5h1M343 607.5h1M264 579.5h1M301 682.5h1M337 552.5h1M230 578.5h1M204 653.5h1M224 613.5h1M212 660.5h1M232 634.5h1M239 681.5h1M243 687.5h1M272 535.5h1M247 649.5h1M301 545.5h1M261 687.5h1M255 548.5h1M278 682.5h1M304 690.5h1M218 594.5h1M282 693.5h1M287 532.5h1M270 703.5h1M305 538.5h1M244 628.5h1M261 535.5h1M353 602.5h1M228 636.5h1M337 561.5h1M266 701.5h1M265 566.5h1M219 605.5h1M297 681.5h1M253 543.5h1M338 546.5h1M255 663.5h1M246 579.5h1M349 628.5h1M310 670.5h1M207 625.5h1M250 594.5h1M214 610.5h1M287 526.5h1M352 632.5h1M212 659.5h1M279 561.5h1M255 581.5h1M343 553.5h1M292 698.5h1M337 649.5h1M348 566.5h1M233 675.5h1M245 622.5h1M214 616.5h1M249 586.5h1M211 604.5h1M223 565.5h1M244 608.5h1M306 553.5h1M324 665.5h1M356 615.5h1M241 601.5h1M271 676.5h1M353 591.5h1M284 697.5h1M235 573.5h1M249 572.5h1M310 534.5h1M293 534.5h1M333 559.5h1M259 587.5h1M241 547.5h1M248 649.5h1M282 702.5h1M335 661.5h1M209 625.5h1M261 588.5h1M242 589.5h1M268 570.5h1M252 653.5h1M206 597.5h1M327 556.5h1" stroke="#777" stroke-width="1" stroke-linecap="butt" shape-rendering="crispEdges" fill="none"/>
<path d="M305 692.5h1M240 678.5h1M247 541.5h1M252 684.5h1M259 558.5h1M218 669.5h1M242 558.5h1M246 561.5h1M247 621.5h1M212 618.5h1M225 571.5h1M350 634.5h1M327 557.5h1M346 571.5h1M304 681.5h1M312 544.5h1M222 564.5h1M285 545.5h1M291 701.5h1M206 640.5h1M319 681.5h1M212 592.5h1M243 555.5h1M220 631.5h1M245 582.5h1M237 650.5h1M349 563.5h1M238 600.5h1M345 624.5h1M358 586.5h1M284 544.5h1M223 622.5h1M238 655.5h1M243 592.5h1M240 635.5h1M271 690.5h1M236 678.5h1M287 691.5h1M294 558.5h1M249 551.5h1M229 650.5h1M339 635.5h1M296 556.5h1M286 536.5h1M268 561.5h1M330 660.5h1M280 543.5h1M226 668.5h1M311 540.5h1M224 561.5h1M282 543.5h1M208 613.5h1M293 696.5h1M279 539.5h1M305 532.5h1M251 617.5h1M241 583.5h1M235 638.5h1M345 656.5h1M330 552.5h1M289 695.5h1M329 667.5h1M265 536.5h1M248 573.5h1M295 681.5h1M290 690.5h1M336 639.5h1M249 661.5h1M358 598.5h1M267 683.5h1M223 640.5h1M242 663.5h1M358 595.5h1M325 557.5h1M288 549.5h1M284 557.5h1M263 569.5h1M207 649.5h1M226 578.5h1M240 646.5h1M222 647.5h1M325 554.5h1M280 568.5h1M276 689.5h1M339 573.5h1M252 669.5h1M337 667.5h1M303 676.5h1M244 595.5h1M215 612.5h1M266 535.5h1M247 607.5h1M216 651.5h1M347 579.5h1M263 688.5h1M245 669.5h1M216 604.5h1M262 700.5h1M218 600.5h1M269 545.5h1M222 613.5h1M251 591.5h1M345 565.5h1M308 683.5h1M224 671.5h1M266 548.5h1M260 552.5h1M233 654.5h1M313 679.5h1M297 548.5h1M258 555.5h1M354 631.5h1M334 648.5h1M307 538.5h1M268 546.5h1M227 669.5h1M239 659.5h1M240 656.5h1M289 528.5h1M230 605.5h1M233 644.5h1M255 574.5h1M352 583.5h1M292 541.5h1M271 529.5h1M352 600.5h1M288 534.5h1M355 568.5h1M208 604.5h1M316 680.5h1M248 676.5h1M232 635.5h1M251 545.5h1M223 663.5h1M312 691.5h1M350 637.5h1M229 568.5h1M253 592.5h1M245 644.5h1M276 558.5h1M279 564.5h1M218 577.5h1M272 566.5h1M259 532.5h1M352 603.5h1M277 681.5h1M253 605.5h1M269 537.5h1M269 570.5h1M218 662.5h1M344 568.5h1M247 549.5h1M264 672.5h1M342 550.5h1M241 592.5h1M224 590.5h1M268 539.5h1M253 539.5h1M233 600.5h1M248 565.5h1M205 606.5h1M207 606.5h1M356 627.5h1M242 685.5h1M291 562.5h1M349 596.5h1M240 567.5h1M344 580.5h1M274 562.5h1M298 685.5h1M241 678.5h1M265 697.5h1M223 587.5h1M254 686.5h1M302 545.5h1M266 685.5h1M243 641.5h1M301 676.5h1M294 538.5h1M283 566.5h1M345 632.5h1M225 650.5h1M207 642.5h1M311 545.5h1M272 697.5h1M326 551.5h1M348 615.5h1M285 697.5h1M260 537.5h1M274 690.5h1M231 602.5h1M272 698.5h1M245 562.5h1M226 568.5h1M243 590.5h1M252 561.5h1M219 673.5h1M301 542.5h1M308 545.5h1M253 664.5h1M214 579.5h1M355 613.5h1M233 669.5h1M248 594.5h1M251 667.5h1M244 574.5h1M215 576.5h1M343 584.5h1M269 679.5h1M293 546.5h1M249 644.5h1M318 663.5h1M260 549.5h1M276 544.5h1M249 579.5h1M354 616.5h1M246 620.5h1M344 627.5h1M306 690.5h1M235 579.5h1M249 577.5h1M233 553.5h1M253 668.5h1M243 611.5h1M339 580.5h1M251 608.5h1M218 585.5h1M312 684.5h1M239 568.5h1M243 621.5h1M228 651.5h1M249 670.5h1M204 609.5h1M256 689.5h1M296 558.5h1M346 617.5h1M347 558.5h1M273 701.5h1M241 623.5h1M246 635.5h1M283 561.5h1M244 550.5h1M253 552.5h1M223 645.5h1M286 549.5h1M325 548.5h1M255 570.5h1M269 692.5h1M325 659.5h1M217 599.5h1M321 542.5h1M256 599.5h1M285 700.5h1M349 619.5h1M214 588.5h1M234 672.5h1M276 555.5h1M312 668.5h1M275 691.5h1M223 679.5h1M210 655.5h1M342 591.5h1M241 619.5h1M286 696.5h1M278 548.5h1M349 626.5h1M251 652.5h1M223 652.5h1M240 598.5h1M232 621.5h1M249 656.5h1M253 611.5h1M276 549.5h1M285 558.5h1M239 629.5h1M344 639.5h1M325 677.5h1M229 556.5h1M254 698.5h1M257 560.5h1M328 545.5h1M353 637.5h1M298 537.5h1M208 614.5h1M206 608.5h1M335 558.5h1M248 583.5h1M296 549.5h1M203 605.5h1M328 655.5h1M237 664.5h1M239 673.5h1M211 631.5h1M203 601.5h1M301 548.5h1M222 594.5h1M303 690.5h1M351 564.5h1M333 653.5h1M295 531.5h1M249 637.5h1M288 554.5h1M350 577.5h1M246 590.5h1M234 645.5h1M242 634.5h1M258 689.5h1M221 616.5h1M329 671.5h1M343 570.5h1M236 564.5h1M222 642.5h1M290 682.5h1M332 666.5h1M343 555.5h1M248 669.5h1M242 576.5h1M209 612.5h1M270 553.5h1M239 603.5h1M228 656.5h1M266 536.5h1M250 611.5h1M278 692.5h1M300 553.5h1M345 635.5h1M226 672.5h1M338 657.5h1M226 670.5h1M228 571.5h1M297 698.5h1M357 575.5h1M277 684.5h1M209 628.5h1M294 547.5h1M264 562.5h1M213 624.5h1M271 548.5h1M353 587.5h1M345 579.5h1M283 681.5h1M221 600.5h1M295 528.5h1M351 592.5h1M306 538.5h1M236 672.5h1M208 632.5h1M274 684.5h1M211 652.5h1M327 540.5h1M234 562.5h1M238 636.5h1M300 541.5h1M318 680.5h1M251 588.5h1M212 584.5h1M203 647.5h1M206 631.5h1M311 677.5h1M359 590.5h1M219 654.5h1M235 667.5h1M261 558.5h1M330 650.5h1M354 633.5h1M233 572.5h1M227 671.5h1M294 552.5h1M255 676.5h1M248 567.5h1M218 595.5h1M309 530.5h1M287 556.5h1M221 608.5h1M241 568.5h1M222 599.5h1M212 623.5h1M338 636.5h1M235 585.5h1M307 694.5h1M291 545.5h1M224 594.5h1M232 582.5h1M251 675.5h1M246 545.5h1M263 554.5h1M207 656.5h1M232 671.5h1M248 555.5h1M242 654.5h1M306 543.5h1M296 682.5h1M296 688.5h1M336 651.5h1M256 549.5h1M339 634.5h1M249 664.5h1M222 678.5h1M279 698.5h1M264 686.5h1M251 559.5h1M284 526.5h1M219 626.5h1M228 676.5h1M240 620.5h1M227 583.5h1M246 580.5h1M273 687.5h1M254 546.5h1M333 656.5h1M238 605.5h1M213 627.5h1M265 684.5h1M275 701.5h1M216 657.5h1M205 605.5h1M266 552.5h1M204 612.5h1M217 610.5h1M240 668.5h1M265 673.5h1M349 587.5h1M327 546.5h1M312 680.5h1M223 577.5h1M223 677.5h1M254 669.5h1M344 554.5h1M331 651.5h1M319 673.5h1M284 540.5h1M327 667.5h1M313 687.5h1M245 615.5h1M225 673.5h1M350 613.5h1M348 561.5h1M227 615.5h1M291 691.5h1M294 535.5h1M327 665.5h1M253 596.5h1M223 641.5h1M330 560.5h1M316 534.5h1M345 603.5h1M249 631.5h1M261 673.5h1M246 584.5h1M229 594.5h1M227 570.5h1M310 692.5h1M339 663.5h1M269 553.5h1M208 623.5h1M241 613.5h1M235 682.5h1M330 654.5h1M242 569.5h1M254 598.5h1M213 646.5h1M246 593.5h1M231 612.5h1M341 563.5h1M355 572.5h1M239 559.5h1M283 555.5h1M215 624.5h1M245 681.5h1M310 556.5h1M358 611.5h1M343 587.5h1M347 595.5h1M284 537.5h1M334 671.5h1M360 599.5h1M251 595.5h1M340 577.5h1M313 545.5h1M258 592.5h1M246 673.5h1M251 673.5h1M329 550.5h1M251 694.5h1M353 565.5h1M278 565.5h1M236 600.5h1M227 659.5h1M250 603.5h1M323 543.5h1M221 647.5h1M299 557.5h1M252 575.5h1M244 672.5h1M257 559.5h1M346 567.5h1M241 631.5h1M347 562.5h1M224 602.5h1M291 556.5h1M313 548.5h1M345 634.5h1M242 599.5h1M335 663.5h1M231 581.5h1M276 702.5h1M211 666.5h1M340 566.5h1M256 533.5h1M282 698.5h1M293 527.5h1M338 643.5h1M237 592.5h1M214 592.5h1M321 664.5h1M249 684.5h1M221 605.5h1M225 601.5h1M235 607.5h1M348 571.5h1M333 661.5h1M358 618.5h1M258 571.5h1M225 577.5h1M277 680.5h1M234 625.5h1M353 612.5h1M317 544.5h1M275 698.5h1M214 597.5h1M253 603.5h1M217 636.5h1M360 594.5h1M336 644.5h1M233 674.5h1M310 690.5h1M241 645.5h1M358 605.5h1M256 583.5h1M210 650.5h1M335 670.5h1M324 669.5h1M235 681.5h1M317 559.5h1M244 626.5h1M235 559.5h1M279 559.5h1M229 653.5h1M348 577.5h1M295 560.5h1M225 636.5h1M300 688.5h1M213 630.5h1M226 638.5h1M355 604.5h1M249 583.5h1M234 588.5h1M245 592.5h1M224 616.5h1M341 557.5h1M242 588.5h1M320 536.5h1M339 655.5h1M313 541.5h1M261 570.5h1M331 648.5h1M238 685.5h1M218 614.5h1M326 558.5h1M267 573.5h1M356 624.5h1M292 547.5h1M258 544.5h1M243 580.5h1M213 610.5h1M334 662.5h1M283 700.5h1M210 593.5h1M350 593.5h1M223 606.5h1M228 590.5h1M231 680.5h1M262 545.5h1M214 648.5h1M235 555.5h1M247 589.5h1M241 625.5h1M324 676.5h1M349 609.5h1M307 677.5h1M359 608.5h1M237 563.5h1M314 538.5h1M236 627.5h1M305 546.5h1M329 649.5h1M202 635.5h1M240 631.5h1M206 610.5h1M242 632.5h1M256 535.5h1M250 549.5h1M237 601.5h1M235 674.5h1M292 700.5h1M292 699.5h1M220 577.5h1M230 598.5h1M299 691.5h1M274 555.5h1M294 530.5h1M221 667.5h1M220 584.5h1M356 588.5h1M315 690.5h1M288 559.5h1M322 552.5h1M347 571.5h1M283 548.5h1M330 544.5h1M288 536.5h1M235 687.5h1M221 639.5h1M228 666.5h1M321 671.5h1M205 601.5h1M304 555.5h1M242 564.5h1M215 619.5h1M267 534.5h1M274 680.5h1M291 688.5h1M336 550.5h1M217 601.5h1M203 617.5h1M339 648.5h1M273 529.5h1M278 694.5h1M222 650.5h1M232 625.5h1M236 571.5h1M268 536.5h1M333 664.5h1M261 551.5h1M222 668.5h1M236 653.5h1M252 690.5h1M308 546.5h1M218 607.5h1M234 649.5h1M269 541.5h1M210 647.5h1M258 580.5h1M209 657.5h1M335 568.5h1M252 554.5h1M232 682.5h1M306 541.5h1M349 591.5h1M348 580.5h1M305 557.5h1M259 701.5h1M218 632.5h1M209 647.5h1M203 625.5h1M205 627.5h1M212 654.5h1M298 542.5h1M290 679.5h1M346 605.5h1M202 642.5h1M270 535.5h1M255 554.5h1M241 552.5h1M290 535.5h1M273 574.5h1M284 688.5h1M287 524.5h1M294 553.5h1M338 644.5h1M325 550.5h1M247 690.5h1M280 686.5h1M206 619.5h1M282 696.5h1M214 629.5h1M213 639.5h1M257 686.5h1M236 684.5h1M319 552.5h1M223 604.5h1M242 546.5h1M250 599.5h1M354 583.5h1M325 663.5h1M291 558.5h1M251 586.5h1M235 590.5h1M347 587.5h1M248 566.5h1M320 671.5h1M233 664.5h1M228 558.5h1M245 581.5h1M334 555.5h1M228 674.5h1M276 525.5h1M270 678.5h1M277 545.5h1M332 671.5h1M346 573.5h1M235 604.5h1M242 579.5h1M347 633.5h1M244 624.5h1M312 669.5h1M295 550.5h1M239 549.5h1M214 669.5h1M331 657.5h1M223 633.5h1M234 568.5h1M272 704.5h1M227 592.5h1M227 594.5h1M214 618.5h1M232 594.5h1M200 639.5h1M356 597.5h1M242 651.5h1M230 620.5h1M360 588.5h1M346 650.5h1M222 645.5h1M244 609.5h1M318 534.5h1M338 653.5h1M246 609.5h1M271 551.5h1M257 551.5h1M233 667.5h1M341 570.5h1M344 645.5h1M237 639.5h1M350 559.5h1M246 575.5h1M226 570.5h1M229 561.5h1M326 673.5h1M239 689.5h1M262 582.5h1M276 543.5h1M340 626.5h1M226 648.5h1M314 686.5h1M290 692.5h1M229 666.5h1M288 544.5h1M354 567.5h1M246 577.5h1M348 644.5h1M242 567.5h1M213 643.5h1M278 553.5h1M249 557.5h1M334 660.5h1M247 580.5h1M286 552.5h1M273 697.5h1M350 608.5h1M281 533.5h1M342 554.5h1M302 540.5h1M323 675.5h1M242 552.5h1M349 641.5h1M350 589.5h1M278 557.5h1M219 595.5h1M233 552.5h1M230 642.5h1M258 541.5h1M236 598.5h1M250 622.5h1M232 591.5h1M299 687.5h1M227 585.5h1M333 557.5h1M259 688.5h1M329 546.5h1M247 539.5h1M266 541.5h1M257 588.5h1M271 684.5h1M234 623.5h1M286 525.5h1M226 564.5h1M282 553.5h1M246 665.5h1M292 553.5h1M354 624.5h1M351 635.5h1M248 585.5h1M287 561.5h1M251 572.5h1M217 639.5h1M289 529.5h1M330 548.5h1M335 655.5h1M266 571.5h1M273 575.5h1M248 638.5h1M282 538.5h1M235 624.5h1M231 604.5h1M346 597.5h1M277 552.5h1M253 682.5h1M259 691.5h1M277 539.5h1M281 524.5h1M219 625.5h1M268 557.5h1M274 532.5h1M354 627.5h1M338 647.5h1M314 553.5h1M356 629.5h1M283 687.5h1M287 687.5h1M253 550.5h1M280 688.5h1M247 626.5h1M283 689.5h1M356 571.5h1M345 599.5h1M247 627.5h1M301 556.5h1M266 564.5h1M276 678.5h1M218 574.5h1M238 564.5h1M347 646.5h1M301 538.5h1M251 539.5h1M264 676.5h1M228 604.5h1M254 557.5h1M262 538.5h1M240 636.5h1M354 610.5h1M252 670.5h1M246 572.5h1M222 597.5h1M242 591.5h1M336 559.5h1M222 566.5h1M350 597.5h1M287 562.5h1M263 671.5h1M213 622.5h1M238 667.5h1M346 555.5h1M245 600.5h1M250 552.5h1M357 599.5h1M236 682.5h1M271 695.5h1M278 679.5h1M316 535.5h1M289 562.5h1M260 671.5h1M309 689.5h1M245 675.5h1M217 575.5h1M347 637.5h1M254 544.5h1M317 686.5h1M338 550.5h1M332 669.5h1M236 623.5h1M243 615.5h1M243 585.5h1M227 582.5h1M343 560.5h1M239 585.5h1M270 528.5h1M213 608.5h1M206 655.5h1M280 532.5h1M242 557.5h1M226 632.5h1M352 606.5h1M256 668.5h1M229 564.5h1M277 538.5h1M226 640.5h1M256 571.5h1M225 641.5h1M272 678.5h1M275 689.5h1M246 567.5h1M243 630.5h1M227 674.5h1M276 682.5h1M200 624.5h1M227 607.5h1M307 686.5h1M349 616.5h1M344 623.5h1M320 548.5h1M206 617.5h1M264 690.5h1M252 612.5h1M257 596.5h1M302 685.5h1M239 546.5h1M358 601.5h1M236 612.5h1M235 562.5h1M238 675.5h1M273 573.5h1M208 635.5h1M305 680.5h1M215 627.5h1M292 528.5h1M245 685.5h1M221 573.5h1M209 651.5h1M233 577.5h1M269 547.5h1M243 612.5h1M233 615.5h1M232 554.5h1M325 540.5h1M349 582.5h1M252 577.5h1M281 544.5h1M342 663.5h1M306 693.5h1M243 606.5h1M285 696.5h1M209 662.5h1M207 629.5h1M244 593.5h1M283 550.5h1M206 595.5h1M242 668.5h1M257 555.5h1M277 536.5h1M253 588.5h1M356 577.5h1M310 551.5h1M340 569.5h1M346 580.5h1M329 653.5h1M346 563.5h1M355 598.5h1M243 550.5h1M218 622.5h1M319 548.5h1M213 612.5h1M227 614.5h1M280 535.5h1M244 648.5h1M211 600.5h1M228 556.5h1M248 595.5h1M228 653.5h1M331 665.5h1M344 561.5h1M231 566.5h1M230 555.5h1M221 651.5h1M339 571.5h1M290 694.5h1M221 626.5h1M244 617.5h1M304 549.5h1M341 555.5h1M330 549.5h1M249 617.5h1M208 627.5h1M342 628.5h1M320 560.5h1M204 621.5h1M205 642.5h1M272 683.5h1M246 556.5h1M331 654.5h1M242 593.5h1M332 658.5h1M263 700.5h1M237 599.5h1M251 601.5h1M253 685.5h1M318 665.5h1M256 662.5h1M266 691.5h1M249 598.5h1M334 642.5h1M201 636.5h1M225 574.5h1M340 564.5h1M275 704.5h1M342 617.5h1M268 549.5h1M246 568.5h1M249 569.5h1M244 676.5h1M254 566.5h1M235 669.5h1M275 532.5h1M243 679.5h1M214 603.5h1M251 648.5h1M340 560.5h1M356 618.5h1M208 625.5h1M334 664.5h1M293 697.5h1M242 640.5h1M345 588.5h1M235 558.5h1M249 559.5h1M314 542.5h1M267 677.5h1M236 633.5h1M303 678.5h1M337 648.5h1M294 683.5h1M215 591.5h1M327 659.5h1M310 539.5h1M323 683.5h1M285 532.5h1M301 683.5h1M250 563.5h1M254 673.5h1M229 603.5h1M351 571.5h1M330 674.5h1M299 538.5h1M296 677.5h1M222 610.5h1M239 601.5h1M281 701.5h1M341 571.5h1M251 556.5h1M236 560.5h1M311 674.5h1M238 575.5h1M204 647.5h1M300 530.5h1M231 621.5h1M336 649.5h1M324 539.5h1M259 579.5h1M250 646.5h1M253 669.5h1M299 684.5h1M211 581.5h1M238 555.5h1M299 547.5h1M300 699.5h1M236 589.5h1M255 576.5h1M210 658.5h1M225 668.5h1M292 561.5h1M237 660.5h1M280 558.5h1M273 700.5h1M220 621.5h1M245 614.5h1M272 702.5h1M342 583.5h1M292 701.5h1M274 683.5h1M340 654.5h1M296 680.5h1M258 547.5h1M318 537.5h1M292 683.5h1M238 686.5h1M257 582.5h1M256 555.5h1M212 668.5h1M296 533.5h1M222 635.5h1M254 696.5h1M347 599.5h1M261 681.5h1M251 540.5h1M269 557.5h1M314 670.5h1M236 651.5h1M339 627.5h1M327 544.5h1M279 690.5h1M217 591.5h1M224 638.5h1M234 597.5h1M219 667.5h1M272 545.5h1M325 545.5h1M204 618.5h1M277 705.5h1M237 689.5h1M236 658.5h1M235 679.5h1M224 643.5h1M344 641.5h1M231 597.5h1M323 663.5h1M273 571.5h1M206 629.5h1M324 553.5h1M249 648.5h1M216 644.5h1M355 626.5h1M347 590.5h1M344 591.5h1M217 597.5h1M319 665.5h1M319 684.5h1M335 649.5h1M246 562.5h1M236 615.5h1M275 693.5h1M244 547.5h1M254 595.5h1M228 669.5h1M229 612.5h1M230 654.5h1M343 581.5h1M263 568.5h1M351 580.5h1M287 548.5h1M328 666.5h1M200 626.5h1M268 689.5h1M312 678.5h1M244 566.5h1M218 642.5h1M287 549.5h1M290 685.5h1M256 670.5h1M289 687.5h1M242 571.5h1M201 639.5h1M276 557.5h1M339 565.5h1M293 690.5h1M218 603.5h1M201 643.5h1M251 576.5h1M357 573.5h1M252 656.5h1M212 637.5h1" stroke="#b5b5b5" stroke-width="1" stroke-linecap="butt" shape-rendering="crispEdges" fill="none"/>
<path d="M279.6,523.6 C273.8,524.5 267.2,527.0 260.7,530.4 C254.2,533.8 246.7,538.8 240.5,544.0 C234.3,549.2 228.4,555.1 223.5,561.5 C218.6,567.9 214.1,575.7 210.8,582.3 C207.5,588.9 205.3,594.7 203.5,601.0 C201.7,607.3 200.6,613.6 200.0,620.0 C199.4,626.4 199.2,632.7 200.2,639.3 C201.1,645.9 202.7,653.4 205.7,659.7 C208.7,666.0 213.1,672.0 218.3,677.0 C223.5,682.0 232.3,686.4 237.1,689.6 C241.9,692.8 242.6,693.9 247.1,696.3 C251.6,698.7 259.2,702.4 264.3,704.0 C269.4,705.6 272.9,706.0 278.0,705.7 C283.1,705.4 289.4,704.3 295.1,702.3 C300.8,700.3 306.6,697.6 312.3,693.7 C318.0,689.8 324.3,684.1 329.4,679.1 C334.5,674.1 339.0,670.1 343.1,663.7 C347.2,657.3 351.1,648.4 353.9,640.9 C356.7,633.4 358.7,626.0 360.1,618.9 C361.5,611.8 362.5,604.4 362.5,598.0 C362.5,591.6 361.5,586.5 360.1,580.7 C358.7,574.9 356.8,568.9 353.9,563.4 C351.0,557.9 347.4,551.9 342.9,547.7 C338.4,543.5 332.4,541.0 327.1,538.3 C321.9,535.5 316.6,533.4 311.4,531.2 C306.2,529.0 301.0,526.2 295.7,524.9 C290.4,523.6 285.4,522.7 279.6,523.6Z" fill="none" stroke-width="1.6" />
<ellipse cx="297.9" cy="619.1" rx="82.1" ry="55.0" transform="rotate(-68.4 297.9 619.1)" fill="none" stroke-width="1.6" />
<ellipse cx="297.8" cy="618.7" rx="73.7" ry="46.8" transform="rotate(-68.8 297.8 618.7)" fill="none" stroke-width="1.6" />
<line x1="262.9" y1="692.2" x2="264.9" y2="685.1" stroke-width="1.0"/>
<line x1="260.4" y1="690.6" x2="262.9" y2="683.6" stroke-width="1.0"/>
<line x1="258.1" y1="688.9" x2="260.9" y2="681.9" stroke-width="1.0"/>
<line x1="255.9" y1="686.9" x2="259.1" y2="680.1" stroke-width="1.0"/>
<line x1="253.8" y1="684.8" x2="257.3" y2="678.1" stroke-width="1.0"/>
<line x1="251.9" y1="682.5" x2="255.7" y2="675.9" stroke-width="1.0"/>
<line x1="250.0" y1="680.0" x2="254.1" y2="673.6" stroke-width="1.0"/>
<line x1="248.3" y1="677.4" x2="252.7" y2="671.1" stroke-width="1.0"/>
<line x1="246.7" y1="674.6" x2="251.4" y2="668.5" stroke-width="1.0"/>
<line x1="245.3" y1="671.6" x2="250.3" y2="665.7" stroke-width="1.0"/>
<line x1="244.0" y1="668.5" x2="249.2" y2="662.8" stroke-width="1.0"/>
<line x1="242.9" y1="665.3" x2="248.4" y2="659.8" stroke-width="1.0"/>
<line x1="241.9" y1="661.9" x2="247.6" y2="656.7" stroke-width="1.0"/>
<line x1="241.0" y1="658.4" x2="247.0" y2="653.5" stroke-width="1.0"/>
<line x1="240.4" y1="654.8" x2="246.5" y2="650.2" stroke-width="1.0"/>
<line x1="239.8" y1="651.1" x2="246.1" y2="646.8" stroke-width="1.0"/>
<line x1="239.5" y1="647.4" x2="245.9" y2="643.3" stroke-width="1.0"/>
<line x1="239.3" y1="643.5" x2="245.9" y2="639.7" stroke-width="1.0"/>
<line x1="239.2" y1="639.6" x2="246.0" y2="636.1" stroke-width="1.0"/>
<line x1="239.3" y1="635.6" x2="246.2" y2="632.5" stroke-width="1.0"/>
<line x1="239.6" y1="631.6" x2="246.6" y2="628.8" stroke-width="1.0"/>
<line x1="240.0" y1="627.5" x2="247.1" y2="625.0" stroke-width="1.0"/>
<line x1="240.6" y1="623.4" x2="247.7" y2="621.3" stroke-width="1.0"/>
<line x1="241.4" y1="619.4" x2="248.5" y2="617.6" stroke-width="1.0"/>
<line x1="242.3" y1="615.3" x2="249.4" y2="613.8" stroke-width="1.0"/>
<line x1="243.4" y1="611.2" x2="250.5" y2="610.1" stroke-width="1.0"/>
<line x1="244.6" y1="607.1" x2="251.7" y2="606.4" stroke-width="1.0"/>
<line x1="245.9" y1="603.1" x2="253.0" y2="602.7" stroke-width="1.0"/>
<line x1="247.4" y1="599.1" x2="254.4" y2="599.1" stroke-width="1.0"/>
<line x1="249.0" y1="595.2" x2="255.9" y2="595.5" stroke-width="1.0"/>
<line x1="250.8" y1="591.3" x2="257.6" y2="592.0" stroke-width="1.0"/>
<line x1="252.7" y1="587.5" x2="259.4" y2="588.5" stroke-width="1.0"/>
<line x1="254.7" y1="583.8" x2="261.3" y2="585.2" stroke-width="1.0"/>
<line x1="256.9" y1="580.2" x2="263.2" y2="581.9" stroke-width="1.0"/>
<line x1="259.1" y1="576.7" x2="265.3" y2="578.8" stroke-width="1.0"/>
<line x1="261.5" y1="573.3" x2="267.5" y2="575.7" stroke-width="1.0"/>
<line x1="264.0" y1="570.1" x2="269.7" y2="572.8" stroke-width="1.0"/>
<line x1="266.5" y1="567.0" x2="272.0" y2="570.0" stroke-width="1.0"/>
<line x1="269.1" y1="564.0" x2="274.4" y2="567.3" stroke-width="1.0"/>
<line x1="271.9" y1="561.2" x2="276.9" y2="564.8" stroke-width="1.0"/>
<line x1="274.6" y1="558.5" x2="279.4" y2="562.4" stroke-width="1.0"/>
<line x1="277.5" y1="556.0" x2="282.0" y2="560.1" stroke-width="1.0"/>
<line x1="280.4" y1="553.7" x2="284.6" y2="558.1" stroke-width="1.0"/>
<line x1="283.4" y1="551.5" x2="287.2" y2="556.2" stroke-width="1.0"/>
<line x1="286.4" y1="549.5" x2="289.9" y2="554.4" stroke-width="1.0"/>
<line x1="289.4" y1="547.8" x2="292.6" y2="552.9" stroke-width="1.0"/>
<line x1="292.4" y1="546.2" x2="295.3" y2="551.5" stroke-width="1.0"/>
<line x1="295.5" y1="544.8" x2="298.0" y2="550.3" stroke-width="1.0"/>
<line x1="298.6" y1="543.6" x2="300.8" y2="549.3" stroke-width="1.0"/>
<line x1="301.6" y1="542.7" x2="303.5" y2="548.5" stroke-width="1.0"/>
<line x1="304.7" y1="541.9" x2="306.2" y2="547.9" stroke-width="1.0"/>
<ellipse cx="296.7" cy="618.8" rx="62.8" ry="43.2" transform="rotate(-68.0 296.7 618.8)" fill="#fff" stroke-width="2.4" />
<path d="M280.2,680.4 L278.3,680.1 L276.5,679.7 L274.7,679.2 L273.0,678.6 L271.3,677.8 L269.6,677.0 L268.0,676.1 L266.4,675.1 L264.9,674.0 L263.5,672.7 L262.1,671.4 L260.7,670.0 L259.5,668.6 L258.2,667.0 L257.1,665.3 L256.0,663.6 L255.0,661.8 L254.1,659.9 L253.2,657.9 L252.4,655.9 L251.7,653.8 L251.1,651.7 L250.5,649.5 L250.0,647.2 L249.6,644.9 L249.3,642.6 L249.1,640.2 L248.9,637.8 L248.8,635.3 L248.9,632.8 L249.0,630.3 L249.1,627.8 L249.4,625.2 L249.7,622.7 L250.1,620.1 L250.6,617.6 L251.2,615.0 L251.9,612.4 L252.6,609.9 L253.4,607.4" fill="none" stroke-width="2.2" />
<ellipse cx="296.6" cy="618.7" rx="58.8" ry="41.0" transform="rotate(-68.0 296.6 618.7)" fill="none" stroke-width="1.3" />
<ellipse cx="296.0" cy="618.5" rx="55.0" ry="38.5" transform="rotate(-68.0 296.0 618.5)" fill="none" stroke-width="1.4" />
<line x1="292.1" y1="570.2" x2="297.4" y2="566.7" stroke-width="1.2"/>
<line x1="301.6" y1="568.6" x2="308.7" y2="565.6" stroke-width="1.4"/>
<line x1="315.3" y1="573.7" x2="324.6" y2="572.5" stroke-width="2.4"/>
<line x1="321.6" y1="581.2" x2="331.7" y2="581.5" stroke-width="1.3"/>
<line x1="325.6" y1="591.4" x2="336.0" y2="593.5" stroke-width="2.4"/>
<line x1="326.6" y1="611.6" x2="336.3" y2="616.5" stroke-width="1.3"/>
<line x1="324.3" y1="623.1" x2="333.0" y2="629.3" stroke-width="1.3"/>
<line x1="315.1" y1="642.9" x2="321.4" y2="651.0" stroke-width="2.4"/>
<line x1="307.0" y1="652.5" x2="311.4" y2="661.3" stroke-width="1.3"/>
<line x1="294.1" y1="661.0" x2="296.0" y2="669.9" stroke-width="1.3"/>
<line x1="283.4" y1="663.0" x2="283.3" y2="671.4" stroke-width="2.6"/>
<line x1="274.5" y1="661.0" x2="273.0" y2="668.4" stroke-width="1.6"/>
<line x1="267.1" y1="655.5" x2="264.4" y2="661.5" stroke-width="2.2"/>
<line x1="262.2" y1="648.1" x2="259.0" y2="652.7" stroke-width="1.3"/>
<line x1="258.5" y1="635.8" x2="255.2" y2="638.5" stroke-width="1.3"/>
<line x1="259.9" y1="611.7" x2="257.8" y2="611.3" stroke-width="1.3"/>
<line x1="269.9" y1="588.7" x2="270.6" y2="586.0" stroke-width="1.3"/>
<line x1="282.6" y1="575.3" x2="286.0" y2="571.8" stroke-width="1.3"/>
<path d="M319.0,574.6 L323.9,580.2 L327.2,577.0Z" fill="none" stroke-width="1.1" />
<path d="M328.7,615.4 L327.4,623.3 L333.5,622.6Z" fill="none" stroke-width="1.1" />
<path d="M306.3,656.2 L296.0,663.1 L303.0,665.3Z" fill="none" stroke-width="1.1" />
<path d="M273.1,662.3 L267.2,658.2 L268.8,664.4Z" fill="none" stroke-width="1.1" />
<path d="M265.2,655.5 L261.8,650.7 L261.7,656.3Z" fill="none" stroke-width="1.1" />
<path d="M328.3,627.9 L327.4,630.2 L326.5,632.6 L325.5,634.8 L324.4,637.1 L323.2,639.3 L322.0,641.4 L320.7,643.5 L319.4,645.5" fill="none" stroke-width="1.0" />
<path d="M331.2,593.8 L331.6,596.0 L331.9,598.2 L332.1,600.4 L332.2,602.7 L332.3,605.1 L332.2,607.4 L332.1,609.8 L331.9,612.2" fill="none" stroke-width="1.0" />
<ellipse cx="292.5" cy="615.8" rx="48.7" ry="32.5" transform="rotate(-71.0 292.5 615.8)" fill="#fff" stroke-width="1.4" />
<ellipse cx="291.7" cy="615.5" rx="46.7" ry="30.5" transform="rotate(-71.0 291.7 615.5)" fill="none" stroke-width="1.4" />
<ellipse cx="287.4" cy="616.6" rx="14.8" ry="10.6" transform="rotate(-72.0 287.4 616.6)" fill="#fff" stroke-width="1.6" />
<ellipse cx="286.8" cy="616.1" rx="11.8" ry="7.4" transform="rotate(-72.0 286.8 616.1)" fill="#666" stroke-width="1.6" />
<ellipse cx="288.0" cy="616.4" rx="8.6" ry="4.4" transform="rotate(-72.0 288.0 616.4)" fill="#ddd" stroke-width="1.2" />
<path d="M284.5,611 L289.5,609 M284,614.5 L290.5,612 M284,618 L291,615.5 M284.5,621.5 L290.5,619" fill="none" stroke-width="1.0" />
<path d="M290.9,597.6 L289.8,598.1 L288.6,598.1 L287.6,597.7 L286.8,596.8 L286.4,595.7 L286.3,594.3 L286.7,593.0 L287.4,591.7 L288.3,590.7 L289.4,590.1 L290.6,589.9 L291.7,590.1 L292.6,590.8 L293.1,591.9" fill="none" stroke-width="1.5" />
<path d="M308.3,609.0 L307.2,609.5 L306.0,609.5 L305.0,609.1 L304.2,608.2 L303.8,607.1 L303.7,605.7 L304.1,604.4 L304.8,603.1 L305.7,602.1 L306.8,601.5 L308.0,601.3 L309.1,601.5 L310.0,602.2 L310.5,603.3" fill="none" stroke-width="1.5" />
<path d="M272.2,615.7 L271.1,616.2 L269.9,616.2 L268.9,615.8 L268.1,614.9 L267.7,613.8 L267.6,612.4 L268.0,611.1 L268.7,609.8 L269.6,608.8 L270.7,608.2 L271.9,608.0 L273.0,608.2 L273.9,608.9 L274.4,610.0" fill="none" stroke-width="1.5" />
<path d="M298.9,636.4 L297.8,636.9 L296.6,636.9 L295.6,636.5 L294.8,635.6 L294.4,634.5 L294.3,633.1 L294.7,631.8 L295.4,630.5 L296.3,629.5 L297.4,628.9 L298.6,628.7 L299.7,628.9 L300.6,629.6 L301.1,630.7" fill="none" stroke-width="1.5" />
<path d="M276.2,641.1 L275.1,641.6 L273.9,641.6 L272.9,641.2 L272.1,640.3 L271.7,639.2 L271.6,637.8 L272.0,636.5 L272.7,635.2 L273.6,634.2 L274.7,633.6 L275.9,633.4 L277.0,633.6 L277.9,634.3 L278.4,635.4" fill="none" stroke-width="1.5" />
<path d="M172.0,131.0 L175.1,128.6 L175.1,137.3" stroke="#222" stroke-width="1.9" fill="none" stroke-linecap="butt" stroke-linejoin="miter"/>
<line x1="179" y1="133.1" x2="200.3" y2="133.1" stroke-width="1.5"/>
<text x="171.7" y="364.4" font-size="12.3" text-anchor="middle" stroke="#222" stroke-width="0.8" fill="#222" font-weight="normal">2</text>
<line x1="176.9" y1="360.7" x2="197.3" y2="360.7" stroke-width="1.5"/>
<text x="515.4" y="199.7" font-size="12.3" text-anchor="middle" stroke="#222" stroke-width="0.8" fill="#222" font-weight="normal">3</text>
<line x1="488" y1="194.3" x2="510.5" y2="194.3" stroke-width="1.5"/>
<text x="453.8" y="471.6" font-size="12.3" text-anchor="middle" stroke="#222" stroke-width="0.8" fill="#222" font-weight="normal">4</text>
<line x1="454.6" y1="436.6" x2="454.6" y2="460" stroke-width="1.5"/>
<text x="470.8" y="158.4" font-size="12.3" text-anchor="middle" stroke="#222" stroke-width="0.8" fill="#222" font-weight="normal">5</text>
<line x1="448.5" y1="154.2" x2="465.4" y2="154.2" stroke-width="1.5"/>
<text x="391.8" y="397.9" font-size="12.3" text-anchor="middle" stroke="#222" stroke-width="0.8" fill="#222" font-weight="normal">5</text>
<line x1="396.5" y1="393.4" x2="412.2" y2="393.4" stroke-width="1.5"/>
<text x="406.7" y="140.9" font-size="12.3" text-anchor="middle" stroke="#222" stroke-width="0.8" fill="#222" font-weight="normal">6</text>
<line x1="406.7" y1="143" x2="406.7" y2="168.9" stroke-width="1.5"/>
<text x="391.6" y="471.6" font-size="12.3" text-anchor="middle" stroke="#222" stroke-width="0.8" fill="#222" font-weight="normal">6</text>
<line x1="391.8" y1="427" x2="391.8" y2="460" stroke-width="1.5"/>
<text x="461.8" y="174.9" font-size="12.3" text-anchor="middle" stroke="#222" stroke-width="0.8" fill="#222" font-weight="normal">7</text>
<line x1="441.9" y1="171.1" x2="457" y2="171.1" stroke-width="1.5"/>
<text x="452.2" y="364.3" font-size="12.3" text-anchor="middle" stroke="#222" stroke-width="0.8" fill="#222" font-weight="normal">8</text>
<line x1="420.5" y1="359.3" x2="446.5" y2="359.3" stroke-width="1.5"/>
<text x="452.2" y="347.5" font-size="12.3" text-anchor="middle" stroke="#222" stroke-width="0.8" fill="#222" font-weight="normal">9</text>
<line x1="438.5" y1="343" x2="446" y2="343" stroke-width="1.5"/>
<path d="M573.5,311.2 L576.5,308.8 L576.5,317.5" stroke="#222" stroke-width="1.9" fill="none" stroke-linecap="butt" stroke-linejoin="miter"/>
<text x="582.0" y="317.6" font-size="12.3" text-anchor="middle" stroke="#222" stroke-width="0.8" fill="#222" font-weight="normal">0</text>
<path d="M548.3,342.1 L551.4,339.7 L551.4,348.4" stroke="#222" stroke-width="1.9" fill="none" stroke-linecap="butt" stroke-linejoin="miter"/>
<path d="M554.6,342.1 L557.6,339.7 L557.6,348.4" stroke="#222" stroke-width="1.9" fill="none" stroke-linecap="butt" stroke-linejoin="miter"/>
<line x1="528.7" y1="342.9" x2="545.7" y2="342.9" stroke-width="1.5"/>
<path d="M549.5,272.4 L552.5,270.0 L552.5,278.7" stroke="#222" stroke-width="1.9" fill="none" stroke-linecap="butt" stroke-linejoin="miter"/>
<text x="558.0" y="278.8" font-size="12.3" text-anchor="middle" stroke="#222" stroke-width="0.8" fill="#222" font-weight="normal">2</text>
<line x1="532.6" y1="273.4" x2="548" y2="273.4" stroke-width="1.5"/>
<path d="M314.6,504.1 L317.7,501.7 L317.7,510.4" stroke="#222" stroke-width="1.9" fill="none" stroke-linecap="butt" stroke-linejoin="miter"/>
<text x="323.2" y="510.5" font-size="12.3" text-anchor="middle" stroke="#222" stroke-width="0.8" fill="#222" font-weight="normal">3</text>
<line x1="319.4" y1="512.9" x2="319.4" y2="531" stroke-width="1.5"/>
<path d="M145.6,511.9 L148.8,509.5 L148.8,518.2" stroke="#222" stroke-width="2.3" fill="none" stroke-linecap="butt" stroke-linejoin="miter"/>
<text x="154.2" y="518.3" font-size="12.3" text-anchor="middle" stroke="#222" stroke-width="0.35" fill="#222" font-weight="bold">4</text>
<line x1="150.5" y1="520.5" x2="150.5" y2="532" stroke-width="1.5"/>
<path d="M177.4,511.9 L180.6,509.5 L180.6,518.2" stroke="#222" stroke-width="2.3" fill="none" stroke-linecap="butt" stroke-linejoin="miter"/>
<text x="186.1" y="518.3" font-size="12.3" text-anchor="middle" stroke="#222" stroke-width="0.35" fill="#222" font-weight="bold">5</text>
<line x1="182" y1="520.5" x2="182" y2="550.5" stroke-width="1.5"/>
<path d="M498.4,619.5 L501.6,617.1 L501.6,625.8" stroke="#222" stroke-width="1.9" fill="none" stroke-linecap="butt" stroke-linejoin="miter"/>
<text x="507.1" y="625.9" font-size="12.3" text-anchor="middle" stroke="#222" stroke-width="0.8" fill="#222" font-weight="normal">6</text>
<line x1="502.9" y1="628" x2="502.9" y2="653" stroke-width="1.5"/>
<path d="M519.0,494.5 L522.0,492.1 L522.0,500.8" stroke="#222" stroke-width="1.9" fill="none" stroke-linecap="butt" stroke-linejoin="miter"/>
<text x="527.5" y="500.9" font-size="12.3" text-anchor="middle" stroke="#222" stroke-width="0.8" fill="#222" font-weight="normal">7</text>
<line x1="524.4" y1="502.7" x2="524.4" y2="519.9" stroke-width="1.5"/>
<path d="M560.6,259.4 L566.3,259.4 L566.3,363.4 L558.3,363.4" fill="none" stroke-width="1.5" />
<line x1="566.3" y1="313.1" x2="570.9" y2="313.1" stroke-width="1.5"/>
<line x1="523.1" y1="294.4" x2="566" y2="294.4" stroke-width="0.9"/>
<line x1="534.3" y1="320.4" x2="566" y2="320.4" stroke-width="0.9"/>
<path d="M446.9,155.6 C446.9,156.8 445.8,158.2 445.0,159.3 C444.3,160.5 443.5,161.9 442.2,162.5 C441.0,163.1 439.1,163.0 437.6,163.0 C436.1,163.0 434.2,163.1 433.0,162.5 C431.7,161.9 430.9,160.5 430.2,159.3 C429.4,158.2 428.4,156.8 428.4,155.6 C428.4,154.4 429.4,153.0 430.2,151.9 C430.9,150.7 431.7,149.3 433.0,148.7 C434.2,148.1 436.1,148.2 437.6,148.2 C439.1,148.2 441.0,148.1 442.2,148.7 C443.5,149.3 444.3,150.7 445.0,151.9 C445.8,153.0 446.9,154.4 446.9,155.6Z" fill="#bdbdbd" stroke-width="2.4" />
<path d="M433.1,150.1 L432.6,160.6 M437.1,149.1 L436.6,162.1 M432.6,154.6 L436.6,155.1" fill="none" stroke-width="1.6" />
<ellipse cx="441.4" cy="155.9" rx="3.6" ry="3.2" transform="rotate(0.0 441.4 155.9)" fill="#fff" stroke-width="1.8" />
<path d="M439.8,154.6 L442.6,157.4 M442.6,154.4 L440.2,157.6" fill="none" stroke-width="1.3" />
<path d="M429.9,395.0 C429.9,396.2 429.0,397.5 428.2,398.6 C427.5,399.7 426.7,401.1 425.6,401.7 C424.4,402.3 422.7,402.2 421.2,402.2 C419.7,402.2 418.0,402.3 416.8,401.7 C415.7,401.1 414.9,399.7 414.2,398.6 C413.4,397.5 412.4,396.2 412.4,395.0 C412.4,393.8 413.4,392.5 414.2,391.4 C414.9,390.3 415.7,388.9 416.8,388.3 C418.0,387.7 419.7,387.8 421.2,387.8 C422.7,387.8 424.4,387.7 425.6,388.3 C426.7,388.9 427.5,390.3 428.2,391.4 C429.0,392.5 429.9,393.8 429.9,395.0Z" fill="#bdbdbd" stroke-width="2.4" />
<path d="M416.7,389.5 L416.2,400.0 M420.7,388.5 L420.2,401.5 M416.2,394.0 L420.2,394.5" fill="none" stroke-width="1.6" />
<ellipse cx="425.0" cy="395.3" rx="3.6" ry="3.2" transform="rotate(0.0 425.0 395.3)" fill="#fff" stroke-width="1.8" />
<path d="M423.4,394.0 L426.2,396.8 M426.2,393.8 L423.8,397.0" fill="none" stroke-width="1.3" />
<g transform="translate(398.5,169.0) rotate(14)">
<ellipse cx="5" cy="5.5" rx="4.3" ry="5" fill="#9a9a9a" stroke-width="2.2"/>
<ellipse cx="11.5" cy="5.2" rx="4" ry="5.6" fill="#a8a8a8" stroke-width="2.2"/>
<path d="M3,3 L6.5,7.5 M10,2.5 L12.5,8" stroke-width="1.4"/>
<path d="M15,2.3 L25,2.6 Q28,5 25,7.6 L15,8 Z" fill="#8a8a8a" stroke-width="1.8"/>
<path d="M17.5,2.5 L17.5,8 M20,2.5 L20,8 M22.5,2.6 L22.5,7.8" stroke-width="1.2"/>
<ellipse cx="25.3" cy="5.1" rx="1.2" ry="1.6" fill="#eee" stroke="none"/>
</g>
<g transform="translate(387.2,414.8) rotate(14)">
<ellipse cx="5" cy="5.5" rx="4.3" ry="5" fill="#9a9a9a" stroke-width="2.2"/>
<ellipse cx="11.5" cy="5.2" rx="4" ry="5.6" fill="#a8a8a8" stroke-width="2.2"/>
<path d="M3,3 L6.5,7.5 M10,2.5 L12.5,8" stroke-width="1.4"/>
<path d="M15,2.3 L25,2.6 Q28,5 25,7.6 L15,8 Z" fill="#8a8a8a" stroke-width="1.8"/>
<path d="M17.5,2.5 L17.5,8 M20,2.5 L20,8 M22.5,2.6 L22.5,7.8" stroke-width="1.2"/>
<ellipse cx="25.3" cy="5.1" rx="1.2" ry="1.6" fill="#eee" stroke="none"/>
</g>
<path d="M431.4,168.7 L434.4,167.9 C439,170 443,174 443.9,177.7 C445,181 445,184 444.3,186.3 C443,191 440.5,195 437.9,197.4 L431.4,192.3 Z" fill="#fff" stroke-width="1.6" />
<path d="M434.3,169.5 L434.3,193.8 M437.6,172.5 L437.6,195.5 M434.3,182 L444,182" fill="none" stroke-width="1.0" />
<path d="M431.4,168.7 L431.4,192.3" fill="none" stroke-width="1.6" />
<path d="M410,339 L413,338.5 C417,340 420,345 420.5,353 C420.5,360 417,363.5 414,364.5 L410,365 L409.5,364 L411,356 L413,355 L413,349 L411,347 Z" fill="#fff" stroke-width="1.5" />
<path d="M414,340 C417,345 418,351 417,358 C416.5,361 415,363 413,363" fill="none" stroke-width="1.2" />
<path d="M411,348.5 L420,348.5 M411,356 L420,356" fill="none" stroke-width="1.2" />
<path d="M410.6,340 L412.8,340 L413.4,347 L411.5,346.5 Z M411.5,357.5 L413.5,357 L412.5,363.5 L410.2,364 Z" fill="#555" stroke-width="1" />
<path d="M426.5,339 L436.5,339 L437,348.5 L434.5,350 L429.5,349.8 L427.5,344.5 Z" fill="#777" stroke-width="1.8" />
<path d="M430,341.5 L434.5,341.5 L434.8,347 L431.5,347 Z" fill="#eee" stroke-width="0.8" />
<path d="M432,343 L434.5,345" fill="none" stroke-width="1" />
<ellipse cx="469.1" cy="198.2" rx="20.3" ry="14.2" transform="rotate(-66.0 469.1 198.2)" fill="#fff" stroke-width="1.7" />
<ellipse cx="471.6" cy="197.6" rx="19.3" ry="12.6" transform="rotate(-66.0 471.6 197.6)" fill="#fff" stroke-width="1.4" />
<g transform="translate(472,198)">
<path d="M-7.5,-8 C-3,-11.5 3,-12 7.5,-10.5 C8.5,-3 5,7 0.6,11.3 C-5,8 -8.5,0 -7.5,-8 Z" fill="#2b2b2b" stroke-width="1.2"/>
<path d="M-5,-5.5 L5.5,-7.5 M-5.5,-2 L5.5,-4 M-5,1.5 L4.5,-0.5 M-3.5,5 L3,3.2 M0,-10 L0.4,9" stroke="#d8d8d8" stroke-width="1"/>
</g>
<ellipse cx="459.3" cy="415.4" rx="20.3" ry="14.2" transform="rotate(-66.0 459.3 415.4)" fill="#fff" stroke-width="1.7" />
<ellipse cx="461.8" cy="414.8" rx="19.3" ry="12.6" transform="rotate(-66.0 461.8 414.8)" fill="#fff" stroke-width="1.4" />
<g transform="translate(462.5,414.6)">
<path d="M-7.5,-7 C-3,-10.5 3,-11.5 8,-10.5 C9,-3 5.5,7 0.8,11.3 C-5,8 -8.5,1 -7.5,-7 Z" fill="#2b2b2b" stroke-width="1.2"/>
<path d="M0.5,0 L-6,-6 M0.5,0 L-2,-9 M0.5,0 L3,-9.5 M0.5,0 L7,-6 M0.5,0 L-6.5,0 M0.5,0 L6,2 M0.5,0 L-4,6 M0.5,0 L2.5,8" stroke="#cfcfcf" stroke-width="0.9"/>
</g>
<ellipse cx="519.3" cy="271.8" rx="11.8" ry="6.9" transform="rotate(-80.0 519.3 271.8)" fill="#fff" stroke-width="1.6" />
<ellipse cx="523.8" cy="271.2" rx="10.3" ry="6.2" transform="rotate(-82.0 523.8 271.2)" fill="#fff" stroke-width="1.5" />
<path d="M517.5,281.1 L516.6,280.1 L515.9,278.8 L515.3,277.2 L515.0,275.4 L514.9,273.5 L515.0,271.5 L515.3,269.6 L515.8,267.7 L516.5,265.9 L517.4,264.3 L518.5,263.0 L519.6,262.0" fill="none" stroke-width="1.1" />
<path d="M498.7,281.3 C495,282.5 492.5,286 493.1,289.5 C493.3,292.5 494.5,294.5 496.1,295.4 L513.3,302.3 L519.3,288.1 Z" fill="#fff" stroke-width="1.5" />
<ellipse cx="516.7" cy="295.0" rx="7.6" ry="5.0" transform="rotate(-62.0 516.7 295.0)" fill="#fff" stroke-width="1.7" />
<ellipse cx="516.9" cy="295.4" rx="5.2" ry="3.3" transform="rotate(-62.0 516.9 295.4)" fill="#999" stroke-width="1.2" />
<path d="M515.3,293.3 L518.6,294.2 L518.2,298 L515,297.2 Z" fill="#fff" stroke-width="0.9" />
<path d="M499.6,306.9 L515.5,312.8 C517,310.5 521,309.5 525,310.3 C530,311.5 533.2,316 533,321.5 C532.8,327 528.5,330.5 523.5,330 C518.5,329.3 515.2,324.5 515,320 L513.3,317.1 L510.5,316.5 L509.5,314.8 L507,314.6 L505.5,312.8 L503,312.5 L501.5,310.8 L498.5,310.5 C497.3,309 497.8,307.2 499.6,306.9 Z" fill="#fff" stroke-width="1.5" />
<path d="M501,308.6 L514,313.8" fill="none" stroke-width="1" />
<path d="M523.5,322.3 C525.5,321 527.3,322.5 526.8,324.5 C526.3,326.5 524,327 522.8,326" fill="none" stroke-width="1.4" />
<ellipse cx="498.7" cy="339.0" rx="12.0" ry="8.6" transform="rotate(-70.0 498.7 339.0)" fill="#fff" stroke-width="1.8" />
<path d="M501.7,349.7 L499.7,350.1 L497.8,349.8 L496.1,348.9 L494.7,347.4 L493.8,345.4 L493.3,343.1 L493.3,340.5 L493.9,337.9 L494.9,335.4 L496.3,333.1 L498.0,331.3 L499.9,330.0 L501.9,329.2 L503.9,329.2 L505.7,329.8 L507.2,331.0" fill="none" stroke-width="1.3" />
<path d="M503.0,349.4 L501.5,349.4 L500.1,348.9 L498.8,348.0 L497.9,346.6 L497.3,344.9 L497.0,343.0 L497.1,340.9 L497.5,338.7 L498.3,336.7 L499.4,334.8 L500.7,333.2 L502.2,332.0 L503.8,331.2 L505.4,330.9 L506.9,331.1 L508.3,331.7" fill="none" stroke-width="1.3" />
<path d="M505.5,333.4 L521.5,336 L519,352.3 L504.5,348.5 C503,344 503.5,337.5 505.5,333.4 Z" fill="#fff" stroke-width="1.5" />
<path d="M506,339 L519.5,341.5 M505,344.5 L518.7,347.6" fill="none" stroke-width="1" />
<ellipse cx="522.5" cy="344.0" rx="8.6" ry="5.2" transform="rotate(-75.0 522.5 344.0)" fill="#777" stroke-width="2" />
<ellipse cx="523.6" cy="344.4" rx="3.3" ry="2.4" transform="rotate(-75.0 523.6 344.4)" fill="#eee" stroke-width="1" />
<path d="M519,337.5 L520.5,350.5" fill="none" stroke-width="1.2" />
<path d="M149.5,551.2 L165,556 Q168,558.4 166,561 L150,559 Z" fill="#777" stroke-width="1.6" />
<path d="M153,552.6 L152.3,559 M155.5,553.4 L154.8,559.4 M158,554.2 L157.3,559.7 M160.5,555 L159.8,560 M163,555.8 L162.4,560.3" fill="none" stroke-width="1.2" />
<path d="M143.2,536 C143.5,533 148.5,532.3 150.5,534 C152,536 152,542 151.7,548 L145.5,548.5 C144,545 143,540 143.2,536 Z" fill="#fff" stroke-width="1.5" />
<path d="M143.5,562 C143,566 144,571 146.5,572.3 C149,573 151,571 151.5,568 L151.8,559.5 L145.5,559 Z" fill="#fff" stroke-width="1.5" />
<path d="M141.5,549 C142.5,547 150,546.8 153,548.5 C154.5,551 154.5,555 152.5,557.5 C150,559.5 143,559 141.2,556.5 C140,554 140.3,551 141.5,549 Z" fill="#fff" stroke-width="1.6" />
<path d="M150.5,535.5 L150.8,547 M150.6,560 L150.4,569" fill="none" stroke-width="1" />
<ellipse cx="183.2" cy="567.7" rx="17.8" ry="11.5" transform="rotate(-66.0 183.2 567.7)" fill="#fff" stroke-width="2.6" />
<ellipse cx="184.4" cy="567.9" rx="15.2" ry="9.4" transform="rotate(-66.0 184.4 567.9)" fill="none" stroke-width="1.3" />
<ellipse cx="184.2" cy="567.8" rx="12.2" ry="7.6" transform="rotate(-66.0 184.2 567.8)" fill="none" stroke-width="1.3" />
<ellipse cx="183.8" cy="567.6" rx="8.2" ry="5.2" transform="rotate(-66.0 183.8 567.6)" fill="none" stroke-width="1.6" />
<path d="M185.8,564.2 C183.5,563.5 182,565.5 181.8,568 C181.6,570.5 183,572 185,571.2" fill="none" stroke-width="1.5" />
<line x1="186" y1="564.3" x2="185.4" y2="571" stroke-width="1.3"/>
<path d="M523.9,535.5 L499.5,541.2 C497,542 497,546.5 499.5,547.4 L524.5,541.8 Z" fill="#fff" stroke-width="1.5" />
<path d="M498.3,541.8 L503,541 L503.5,546.7 L499,547.4 Z" fill="#333" stroke-width="1" />
<path d="M508,539.3 L509,545.2 M515,537.6 L516,543.6" fill="none" stroke-width="1" />
<path d="M524.4,520.2 C527,519 536,519.5 539,521.3 L530,545.5 C526,545 521,541 519.5,535 C518.8,529 521,523 524.4,520.2 Z" fill="#fff" stroke-width="1.6" />
<ellipse cx="536.4" cy="534.4" rx="13.0" ry="10.2" transform="rotate(-80.0 536.4 534.4)" fill="#fff" stroke-width="1.9" />
<ellipse cx="536.9" cy="534.6" rx="10.0" ry="7.6" transform="rotate(-80.0 536.9 534.6)" fill="none" stroke-width="1.3" />
<path d="M531.5,531 L532,538.5 L534.5,538 L534,530.5 Z" fill="#444" stroke-width="0.9" />
<path d="M536,536 C537,532.5 540,531 541.5,532.5 M538,539.5 C540,538.5 541.5,536.5 541.8,534" fill="none" stroke-width="1.3" />
<path d="M521.5,532 L524.5,531.5 L525,537 L522,537.5 Z" fill="#555" stroke-width="0.9" />
<path d="M421.5,611.5 C422.9,612.2 425.4,613.2 430.0,615.5 C434.6,617.8 443.4,622.5 449.4,625.5 C455.4,628.5 461.4,630.8 466.0,633.5 C470.6,636.2 473.7,639.0 477.0,642.0 C480.3,645.0 484.5,649.9 486.0,651.5" fill="none" stroke-width="3.6" />
<path d="M421.5,611.5 C422.9,612.2 425.4,613.2 430.0,615.5 C434.6,617.8 443.4,622.5 449.4,625.5 C455.4,628.5 461.4,630.8 466.0,633.5 C470.6,636.2 473.7,639.0 477.0,642.0 C480.3,645.0 484.5,649.9 486.0,651.5" fill="none" stroke-width="1.2" stroke="#fff"/>
<path d="M411,605.6 L417,604.8 L420.5,607.2 L422.4,611 L421.6,616 L418.5,618.8 L416.5,619.5 L415.8,616.5 L411.8,615 L410,610 Z" fill="#888" stroke-width="1.5" />
<path d="M413,607.5 L416.5,607 L417.5,612 L413.5,612.5 Z" fill="#eee" stroke-width="0.8" />
<path d="M484.4,653.1 L530.7,668 L534.1,689.1 L529,707.4 L519.9,710.9 L508.4,706.3 L486.7,693.7 L479.3,693.7 L478.1,690.3 Z" fill="#fff" stroke-width="1.6" />
<path d="M484.4,653.1 L482,656 M525.6,672 L530.7,668 M490.7,657.5 L499,660.5 M507.5,664.5 L525.6,672 L518.7,697.1 L533.5,690.5" fill="none" stroke-width="1.3" />
<path d="M490.7,667.4 L510.7,676.6 L508.4,706.3 M490.7,667.4 L486.7,693.7" fill="none" stroke-width="1.5" />
<path d="M492.6,670.2 L510,678.2 M492.6,670.2 L489.5,691.5" fill="none" stroke-width="1.2" />
<path d="M495,676 L510,682.5 L509,699.5 L493.5,692.5 Z" fill="#fff" stroke-width="1.2" />
<ellipse cx="493.8" cy="685.0" rx="8.6" ry="3.2" transform="rotate(-80.0 493.8 685.0)" fill="#fff" stroke-width="1.3" />
<path d="M488.5,672 L486,692 M490,673 L487.6,692.5" fill="none" stroke-width="1" />
<path d="M511.9,676.6 L519.9,679.4 L515.3,708.6 L509,706.5 Z" fill="#fff" stroke-width="1.3" />
<path d="M513.8,680 L517.5,681.2 M513.5,683.5 L517,684.7 M513,687 L516.5,688.2 M512.6,690.5 L516,691.7 M512.2,694 L515.5,695.2 M511.8,697.5 L515,698.7 M511.4,701 L514.5,702.2" fill="none" stroke-width="1" />
<path d="M514.8,679 L511.5,705" fill="none" stroke-width="0.9" />
<ellipse cx="483.9" cy="695.2" rx="1.8" ry="1.6" transform="rotate(0.0 483.9 695.2)" fill="#fff" stroke-width="1.2" />
<ellipse cx="514.1" cy="709.3" rx="1.8" ry="1.6" transform="rotate(0.0 514.1 709.3)" fill="#fff" stroke-width="1.2" />
<path d="M445.6,685.6 C446.7,685.2 449.6,684.3 452.0,683.5 C454.4,682.7 457.3,681.3 460.0,680.8 C462.7,680.3 464.9,680.0 468.0,680.5 C471.1,681.0 476.9,683.4 478.7,684.0" fill="none" stroke-width="2.2" />
<path d="M478.7,684.0 C479.4,684.4 481.6,685.8 483.0,686.5 C484.4,687.2 486.3,688.2 487.0,688.5" fill="none" stroke-width="1.2" />
<path d="M386.4,663 L389,661.6 L393,662.5 L420.5,673 L421.3,678.8 L417,680.6 L399,675.4 L395,672 L391,666.5 Z" fill="#fff" stroke-width="1.5" />
<path d="M393,662.5 L394.5,668 L417.5,676.8 M394.5,668 L391,666.5" fill="none" stroke-width="1.1" />
<path d="M386.4,663 L388,664.6 L390,664" fill="none" stroke-width="1" />
<path d="M421.0,677.0 C422.2,677.6 425.8,679.4 428.0,680.5 C430.2,681.6 431.9,682.5 434.0,683.5 C436.1,684.5 439.3,685.9 440.4,686.4" fill="none" stroke-width="2.4" />
<path d="M424,678.5 L430,681.6" fill="none" stroke-width="1" stroke="#fff"/>
</g>
</svg>
</body></html>
